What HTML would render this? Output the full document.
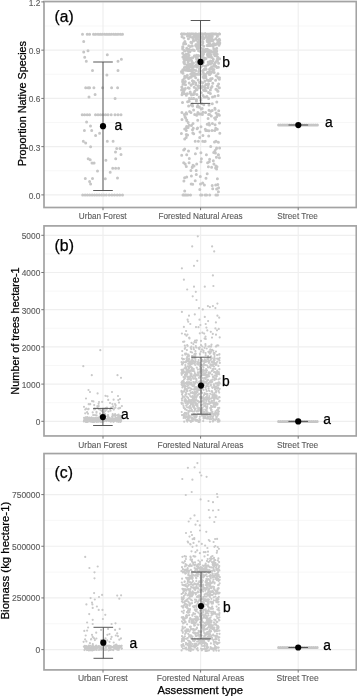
<!DOCTYPE html>
<html><head><meta charset="utf-8"><style>html,body{margin:0;padding:0;background:#fff;overflow:hidden}svg{display:block;will-change:transform;filter:blur(0.4px)}text{font-family:"Liberation Sans",sans-serif}.k{fill:#000;stroke:#000;stroke-width:.25px}.g{fill:#5c5c5c;stroke:#5c5c5c;stroke-width:.12px}</style></head><body>
<svg width="357" height="696" viewBox="0 0 357 696">
<rect width="357" height="696" fill="#fff"/>
<line x1="44.0" x2="356.3" y1="170.78" y2="170.78" stroke="#f5f5f5" stroke-width="0.8"/>
<line x1="44.0" x2="356.3" y1="122.53" y2="122.53" stroke="#f5f5f5" stroke-width="0.8"/>
<line x1="44.0" x2="356.3" y1="74.28" y2="74.28" stroke="#f5f5f5" stroke-width="0.8"/>
<line x1="44.0" x2="356.3" y1="26.03" y2="26.03" stroke="#f5f5f5" stroke-width="0.8"/>
<line x1="44.0" x2="356.3" y1="194.90" y2="194.90" stroke="#efefef" stroke-width="1.2"/>
<line x1="44.0" x2="356.3" y1="146.65" y2="146.65" stroke="#efefef" stroke-width="1.2"/>
<line x1="44.0" x2="356.3" y1="98.40" y2="98.40" stroke="#efefef" stroke-width="1.2"/>
<line x1="44.0" x2="356.3" y1="50.15" y2="50.15" stroke="#efefef" stroke-width="1.2"/>
<line x1="44.0" x2="356.3" y1="1.90" y2="1.90" stroke="#efefef" stroke-width="1.2"/>
<line x1="103.0" x2="103.0" y1="1.5" y2="207.5" stroke="#efefef" stroke-width="1.2"/>
<line x1="200.6" x2="200.6" y1="1.5" y2="207.5" stroke="#efefef" stroke-width="1.2"/>
<line x1="298.2" x2="298.2" y1="1.5" y2="207.5" stroke="#efefef" stroke-width="1.2"/>
<line x1="44.0" x2="356.3" y1="402.70" y2="402.70" stroke="#f5f5f5" stroke-width="0.8"/>
<line x1="44.0" x2="356.3" y1="365.50" y2="365.50" stroke="#f5f5f5" stroke-width="0.8"/>
<line x1="44.0" x2="356.3" y1="328.30" y2="328.30" stroke="#f5f5f5" stroke-width="0.8"/>
<line x1="44.0" x2="356.3" y1="291.10" y2="291.10" stroke="#f5f5f5" stroke-width="0.8"/>
<line x1="44.0" x2="356.3" y1="253.90" y2="253.90" stroke="#f5f5f5" stroke-width="0.8"/>
<line x1="44.0" x2="356.3" y1="421.30" y2="421.30" stroke="#efefef" stroke-width="1.2"/>
<line x1="44.0" x2="356.3" y1="384.10" y2="384.10" stroke="#efefef" stroke-width="1.2"/>
<line x1="44.0" x2="356.3" y1="346.90" y2="346.90" stroke="#efefef" stroke-width="1.2"/>
<line x1="44.0" x2="356.3" y1="309.70" y2="309.70" stroke="#efefef" stroke-width="1.2"/>
<line x1="44.0" x2="356.3" y1="272.50" y2="272.50" stroke="#efefef" stroke-width="1.2"/>
<line x1="44.0" x2="356.3" y1="235.30" y2="235.30" stroke="#efefef" stroke-width="1.2"/>
<line x1="103.0" x2="103.0" y1="225.9" y2="435.95" stroke="#efefef" stroke-width="1.2"/>
<line x1="200.6" x2="200.6" y1="225.9" y2="435.95" stroke="#efefef" stroke-width="1.2"/>
<line x1="298.2" x2="298.2" y1="225.9" y2="435.95" stroke="#efefef" stroke-width="1.2"/>
<line x1="44.0" x2="356.3" y1="623.76" y2="623.76" stroke="#f5f5f5" stroke-width="0.8"/>
<line x1="44.0" x2="356.3" y1="572.09" y2="572.09" stroke="#f5f5f5" stroke-width="0.8"/>
<line x1="44.0" x2="356.3" y1="520.41" y2="520.41" stroke="#f5f5f5" stroke-width="0.8"/>
<line x1="44.0" x2="356.3" y1="468.74" y2="468.74" stroke="#f5f5f5" stroke-width="0.8"/>
<line x1="44.0" x2="356.3" y1="649.60" y2="649.60" stroke="#efefef" stroke-width="1.2"/>
<line x1="44.0" x2="356.3" y1="597.93" y2="597.93" stroke="#efefef" stroke-width="1.2"/>
<line x1="44.0" x2="356.3" y1="546.25" y2="546.25" stroke="#efefef" stroke-width="1.2"/>
<line x1="44.0" x2="356.3" y1="494.58" y2="494.58" stroke="#efefef" stroke-width="1.2"/>
<line x1="103.0" x2="103.0" y1="453.55" y2="669.9" stroke="#efefef" stroke-width="1.2"/>
<line x1="200.6" x2="200.6" y1="453.55" y2="669.9" stroke="#efefef" stroke-width="1.2"/>
<line x1="298.2" x2="298.2" y1="453.55" y2="669.9" stroke="#efefef" stroke-width="1.2"/>
<path d="M82.5 34.3h0M87.2 34.3h0M89.6 34.3h0M93.5 34.3h0M95.7 34.3h0M98.0 34.3h0M100.2 34.3h0M102.4 34.3h0M104.7 34.3h0M106.9 34.3h0M109.1 34.3h0M111.3 34.3h0M113.6 34.3h0M115.8 34.3h0M118.0 34.3h0M120.3 34.3h0M122.5 34.3h0M83.7 41.6h0M83.7 52.0h0M88.0 50.8h0M84.7 57.3h0M107.3 54.7h0M86.3 61.2h0M118.0 61.2h0M121.4 59.2h0M92.5 70.4h0M118.0 70.4h0M106.9 74.9h0M85.7 87.8h0M88.2 87.8h0M89.6 87.8h0M93.9 87.8h0M102.5 87.8h0M111.6 87.8h0M117.6 87.8h0M95.1 94.5h0M89.0 96.9h0M115.1 98.4h0M82.2 114.7h0M84.6 114.7h0M87.2 114.7h0M89.6 114.7h0M95.5 114.7h0M98.0 114.7h0M100.5 114.7h0M103.0 114.7h0M105.5 114.7h0M108.0 114.7h0M111.2 114.7h0M115.0 114.7h0M118.0 114.7h0M121.0 114.7h0M86.6 122.1h0M90.5 126.0h0M84.4 130.4h0M91.7 130.4h0M99.6 133.3h0M95.6 135.5h0M83.3 141.2h0M85.7 143.1h0M107.3 141.2h0M113.1 141.2h0M90.6 146.7h0M116.7 148.6h0M120.0 148.6h0M115.5 152.0h0M121.0 154.5h0M88.2 158.8h0M90.2 159.8h0M92.0 163.1h0M94.1 163.1h0M105.9 160.2h0M115.7 158.8h0M112.7 168.2h0M115.6 168.2h0M118.6 168.2h0M97.5 171.0h0M110.2 172.2h0M85.3 178.4h0M92.5 178.4h0M89.6 181.4h0M90.6 183.9h0M105.3 178.8h0M117.5 178.0h0M82.7 195.1h0M85.1 195.1h0M87.4 195.1h0M89.8 195.1h0M92.1 195.1h0M94.5 195.1h0M96.9 195.1h0M99.2 195.1h0M101.6 195.1h0M103.9 195.1h0M106.3 195.1h0M109.2 195.1h0M111.9 195.1h0M114.5 195.1h0M117.2 195.1h0M119.8 195.1h0M122.5 195.1h0M205.4 34.1h0M215.9 34.1h0M211.2 34.1h0M190.0 34.1h0M192.9 34.1h0M214.9 34.1h0M181.6 34.1h0M212.9 34.1h0M212.0 34.1h0M199.4 34.1h0M193.0 34.1h0M192.1 34.1h0M191.2 34.1h0M198.5 34.1h0M200.8 34.1h0M202.7 34.1h0M219.6 34.1h0M211.8 34.1h0M205.3 34.1h0M219.4 34.1h0M189.7 34.1h0M187.6 34.1h0M204.9 34.1h0M183.1 34.1h0M182.8 34.1h0M201.2 34.1h0M199.3 34.1h0M216.6 34.1h0M205.6 34.1h0M201.1 34.1h0M200.5 34.1h0M190.9 34.1h0M181.9 34.1h0M188.8 34.1h0M208.0 34.1h0M189.1 34.1h0M195.6 34.1h0M181.5 34.1h0M213.3 34.1h0M187.3 34.1h0M191.7 34.1h0M215.2 34.1h0M201.0 34.1h0M213.9 34.1h0M206.0 34.1h0M209.9 34.1h0M184.9 34.1h0M202.2 34.1h0M200.9 34.1h0M214.9 34.1h0M195.3 34.1h0M204.4 34.1h0M183.7 34.1h0M196.3 34.1h0M193.8 34.1h0M187.2 34.1h0M212.7 34.1h0M196.0 34.1h0M219.0 34.1h0M204.1 34.1h0M208.7 50.3h0M185.1 51.1h0M209.3 52.1h0M211.2 39.2h0M213.1 46.3h0M207.3 41.4h0M195.6 45.4h0M183.9 37.9h0M201.3 59.2h0M210.5 40.8h0M188.7 52.0h0M191.6 42.9h0M202.0 56.9h0M210.1 51.7h0M215.8 38.7h0M186.2 56.2h0M188.5 58.7h0M212.1 57.6h0M206.1 49.5h0M209.1 39.1h0M219.7 40.2h0M217.5 58.2h0M213.8 49.0h0M211.2 39.9h0M196.6 57.2h0M206.0 51.2h0M188.5 49.5h0M210.6 44.7h0M210.5 45.6h0M209.1 41.4h0M198.5 36.4h0M195.9 57.0h0M197.5 47.0h0M182.7 48.9h0M213.8 43.4h0M202.2 53.9h0M196.3 36.1h0M202.4 44.6h0M209.1 36.2h0M196.0 38.5h0M213.3 59.2h0M216.7 51.6h0M196.3 46.0h0M186.7 48.3h0M210.6 56.9h0M219.5 43.9h0M187.1 50.0h0M208.8 52.3h0M213.1 44.2h0M216.7 48.2h0M186.1 54.2h0M184.9 57.8h0M219.3 39.2h0M185.9 58.4h0M188.2 35.6h0M203.5 53.9h0M198.5 55.4h0M210.2 38.9h0M188.7 45.8h0M216.5 55.5h0M189.7 35.8h0M210.9 50.9h0M184.0 54.9h0M199.6 48.1h0M182.7 53.3h0M193.5 41.0h0M193.4 40.4h0M209.0 44.4h0M198.9 39.9h0M183.6 44.0h0M219.6 58.7h0M215.5 49.5h0M216.6 43.8h0M190.9 42.2h0M196.5 58.8h0M190.1 46.4h0M186.2 59.5h0M182.7 48.1h0M200.7 48.3h0M186.1 57.5h0M188.2 53.7h0M214.4 49.7h0M200.0 46.0h0M188.5 57.0h0M207.1 45.6h0M191.6 58.1h0M201.6 37.2h0M192.3 46.0h0M201.2 48.2h0M205.5 58.8h0M202.0 41.6h0M196.6 55.2h0M211.8 52.1h0M214.9 53.1h0M188.3 50.9h0M186.6 59.3h0M185.7 43.7h0M219.0 45.3h0M217.6 40.5h0M190.3 36.7h0M218.6 40.7h0M189.4 57.9h0M200.8 56.1h0M200.5 38.3h0M216.5 50.3h0M183.0 47.2h0M193.5 50.1h0M204.4 51.7h0M183.9 43.0h0M190.5 59.1h0M199.3 46.9h0M215.2 50.9h0M210.6 51.1h0M213.2 40.0h0M210.6 37.0h0M208.6 45.6h0M214.0 54.2h0M207.6 55.5h0M209.7 53.4h0M193.0 38.3h0M187.8 57.9h0M210.5 55.1h0M187.8 57.0h0M216.7 48.3h0M204.3 57.9h0M194.1 36.6h0M217.4 36.2h0M187.4 36.0h0M201.2 41.7h0M184.9 41.6h0M218.5 40.1h0M203.5 49.4h0M212.3 36.5h0M192.2 50.0h0M212.2 39.6h0M208.4 52.1h0M206.1 36.0h0M217.9 43.1h0M198.0 58.5h0M197.3 48.7h0M208.0 55.4h0M213.5 51.6h0M194.3 50.5h0M207.1 40.2h0M189.4 49.6h0M202.6 36.5h0M210.9 55.1h0M183.9 59.0h0M209.3 56.4h0M182.0 36.7h0M218.2 43.8h0M199.4 43.3h0M197.1 38.3h0M209.1 50.9h0M201.5 55.0h0M209.5 43.2h0M184.7 56.6h0M203.0 55.0h0M202.8 38.7h0M217.2 54.3h0M182.9 57.1h0M198.8 40.3h0M205.6 49.6h0M202.5 51.1h0M184.2 50.4h0M204.2 37.9h0M189.9 51.7h0M188.9 51.0h0M215.1 55.7h0M189.0 55.2h0M198.8 43.5h0M210.2 53.2h0M208.6 56.7h0M202.7 57.4h0M212.4 39.5h0M199.3 36.2h0M205.2 51.4h0M212.8 40.8h0M207.4 49.3h0M206.0 58.6h0M197.0 44.8h0M202.8 41.7h0M196.6 46.7h0M210.0 51.6h0M196.0 38.0h0M199.3 44.8h0M210.4 38.8h0M200.7 51.7h0M194.4 55.8h0M213.1 44.7h0M196.0 44.6h0M213.8 48.7h0M211.6 40.8h0M198.6 41.6h0M208.8 43.6h0M182.7 46.7h0M196.4 37.5h0M214.4 53.9h0M203.7 49.7h0M202.8 42.8h0M206.9 37.4h0M207.4 54.2h0M203.8 38.7h0M197.6 38.8h0M188.4 38.7h0M192.6 37.5h0M192.6 57.7h0M197.9 42.1h0M219.8 43.0h0M194.9 55.9h0M198.6 50.7h0M195.7 40.1h0M203.7 46.2h0M217.8 57.2h0M215.5 44.7h0M214.1 65.7h0M210.4 64.0h0M194.3 73.3h0M184.4 67.4h0M186.5 70.3h0M188.5 61.1h0M193.1 73.0h0M198.6 64.7h0M217.0 67.4h0M192.1 63.0h0M215.9 66.3h0M207.5 72.4h0M214.2 72.4h0M196.9 67.1h0M181.5 71.5h0M211.6 66.9h0M190.8 65.6h0M186.9 68.2h0M212.1 63.0h0M207.8 64.7h0M189.6 70.6h0M191.7 71.6h0M217.5 60.9h0M191.7 71.0h0M208.4 72.3h0M186.4 66.7h0M212.7 60.9h0M185.9 70.2h0M201.2 63.7h0M182.8 69.7h0M202.5 65.6h0M213.9 69.6h0M184.6 63.9h0M191.9 67.1h0M210.8 67.9h0M204.8 69.5h0M193.4 63.0h0M205.5 74.4h0M198.9 64.3h0M214.5 64.6h0M192.6 63.8h0M210.5 61.0h0M205.8 66.3h0M209.8 71.6h0M195.9 70.6h0M209.2 62.9h0M208.2 62.1h0M196.3 64.8h0M182.4 71.5h0M218.4 67.3h0M208.8 73.8h0M189.3 69.8h0M209.5 69.3h0M192.1 71.5h0M199.4 71.3h0M214.4 65.2h0M198.6 63.9h0M192.5 66.6h0M193.1 67.3h0M184.4 62.1h0M189.8 66.6h0M191.8 69.6h0M188.0 62.0h0M183.8 62.1h0M199.3 62.6h0M189.6 64.2h0M209.8 74.4h0M216.8 60.4h0M191.9 62.8h0M203.4 62.5h0M200.9 67.1h0M184.3 60.2h0M186.2 66.9h0M215.4 62.4h0M199.6 64.0h0M212.3 71.9h0M184.0 62.8h0M204.2 69.3h0M214.6 66.1h0M214.7 66.3h0M181.6 72.3h0M201.4 62.4h0M195.6 73.9h0M210.6 73.4h0M184.2 70.0h0M191.6 60.7h0M212.6 69.9h0M199.4 69.0h0M198.8 71.6h0M218.6 63.2h0M193.7 74.3h0M183.0 73.3h0M196.5 61.7h0M187.3 64.7h0M184.5 60.5h0M203.2 72.5h0M218.0 73.7h0M203.6 74.8h0M206.2 69.2h0M193.8 70.0h0M203.3 70.2h0M210.3 68.6h0M204.0 74.3h0M212.2 69.1h0M202.5 65.0h0M189.0 67.7h0M203.8 60.3h0M200.3 70.9h0M187.8 70.4h0M205.2 66.3h0M217.7 91.3h0M195.7 77.7h0M217.5 85.9h0M197.0 89.7h0M195.8 83.1h0M210.5 80.4h0M199.5 82.4h0M198.6 85.8h0M196.2 88.7h0M198.0 86.2h0M186.8 77.1h0M183.7 91.4h0M210.4 93.5h0M203.1 77.0h0M207.2 80.0h0M212.2 78.5h0M190.2 92.0h0M190.4 93.2h0M192.1 75.9h0M193.1 81.6h0M210.6 78.8h0M195.8 84.4h0M193.8 93.4h0M205.8 76.4h0M188.6 78.4h0M185.5 84.7h0M208.2 85.5h0M210.4 89.9h0M192.8 83.8h0M205.8 77.8h0M182.7 82.1h0M196.9 94.6h0M203.6 90.0h0M191.1 77.3h0M194.8 91.2h0M204.8 81.2h0M204.1 90.6h0M187.3 75.3h0M208.5 92.4h0M184.5 78.2h0M218.6 84.1h0M189.2 88.2h0M191.1 85.2h0M189.1 78.3h0M219.5 77.8h0M192.4 80.7h0M204.6 76.0h0M219.4 79.3h0M217.9 77.6h0M183.0 84.3h0M201.4 82.1h0M204.5 86.7h0M208.4 80.6h0M194.3 75.7h0M194.0 81.6h0M181.6 90.1h0M182.8 80.1h0M202.5 83.1h0M184.3 90.1h0M189.2 83.1h0M194.2 92.7h0M184.1 93.4h0M182.6 81.2h0M217.0 89.7h0M198.1 80.1h0M189.3 77.8h0M208.6 83.8h0M181.8 87.0h0M190.8 93.7h0M218.3 77.9h0M215.9 89.2h0M205.8 84.5h0M185.0 77.6h0M193.6 94.5h0M182.5 88.9h0M189.8 77.6h0M182.4 93.1h0M186.2 77.1h0M205.7 76.9h0M185.3 81.6h0M187.4 93.8h0M216.1 75.7h0M194.3 93.4h0M194.2 87.2h0M184.7 76.3h0M212.0 86.4h0M207.4 84.2h0M202.4 86.3h0M205.1 89.7h0M185.3 88.6h0M191.4 94.9h0M203.8 78.1h0M218.0 91.3h0M212.8 83.2h0M206.0 90.7h0M201.3 92.8h0M182.0 94.8h0M215.6 80.3h0M184.0 84.1h0M186.4 93.9h0M215.5 119.3h0M212.4 123.4h0M188.2 122.5h0M218.7 110.8h0M189.2 101.2h0M214.8 96.2h0M215.1 124.8h0M205.3 129.2h0M201.4 103.5h0M189.1 125.3h0M201.3 109.1h0M192.6 105.9h0M186.2 112.7h0M186.3 95.3h0M212.2 110.5h0M216.8 102.0h0M186.8 119.9h0M181.9 112.6h0M191.5 125.4h0M186.6 126.4h0M188.6 106.1h0M203.8 104.8h0M197.6 127.9h0M197.9 112.6h0M189.3 98.4h0M206.9 96.6h0M192.5 129.7h0M196.7 115.3h0M199.2 96.9h0M216.1 112.9h0M190.9 112.6h0M209.0 110.2h0M193.3 128.3h0M215.7 128.2h0M196.5 99.4h0M200.8 100.3h0M215.1 109.3h0M207.2 124.2h0M185.0 116.8h0M186.7 120.5h0M219.4 115.2h0M182.5 102.4h0M193.0 123.6h0M218.2 95.5h0M182.0 119.4h0M187.6 101.8h0M189.6 111.5h0M184.7 129.1h0M199.5 113.9h0M204.1 97.0h0M193.6 110.0h0M185.6 118.1h0M212.5 97.0h0M212.3 103.8h0M203.0 95.6h0M186.7 113.9h0M202.2 108.4h0M205.6 112.6h0M197.8 105.4h0M214.6 118.0h0M196.4 101.1h0M201.0 126.7h0M185.8 128.6h0M203.0 112.3h0M210.8 111.3h0M209.5 125.1h0M191.3 105.1h0M219.5 123.1h0M209.0 105.1h0M197.7 120.2h0M197.3 106.7h0M211.3 116.1h0M188.1 127.4h0M206.0 96.9h0M209.0 123.3h0M201.2 114.0h0M214.9 108.3h0M199.4 107.3h0M199.3 97.4h0M192.3 104.0h0M216.7 116.8h0M193.5 98.4h0M208.1 118.4h0M197.1 128.7h0M217.3 129.3h0M212.7 188.8h0M200.0 131.9h0M218.4 191.7h0M192.2 167.5h0M186.3 134.6h0M213.3 160.8h0M192.8 133.1h0M213.9 164.0h0M204.8 141.5h0M200.9 152.8h0M184.7 148.9h0M211.6 167.3h0M183.9 181.0h0M218.5 188.1h0M215.1 150.4h0M193.0 165.3h0M186.3 130.4h0M215.4 153.1h0M199.8 189.6h0M186.2 137.4h0M200.5 183.9h0M190.9 170.5h0M197.1 148.2h0M206.0 178.2h0M216.6 147.9h0M212.2 185.5h0M187.6 135.1h0M199.7 137.4h0M200.3 176.5h0M219.4 157.8h0M184.7 139.1h0M201.0 161.8h0M216.5 148.4h0M196.7 164.1h0M191.4 176.1h0M202.7 183.1h0M193.7 133.7h0M217.0 166.7h0M184.7 191.0h0M189.3 158.5h0M184.6 177.7h0M208.7 136.0h0M192.7 184.2h0M216.0 166.1h0M215.7 185.1h0M217.4 178.8h0M191.2 183.9h0M181.4 133.6h0M196.3 174.4h0M218.4 142.2h0M210.7 146.5h0M183.7 150.1h0M208.4 166.7h0M216.6 168.9h0M218.6 187.7h0M208.9 130.8h0M214.5 142.0h0M213.7 152.4h0M195.2 180.7h0M185.2 164.1h0M209.3 161.7h0M186.7 177.1h0M196.2 170.6h0M219.6 148.0h0M202.9 135.4h0M201.4 158.7h0M217.8 184.6h0M192.3 167.1h0M219.8 133.3h0M216.4 157.3h0M195.4 153.8h0M194.0 166.1h0M186.3 166.4h0M216.6 189.0h0M188.5 151.0h0M181.7 155.3h0M215.6 168.0h0M204.4 185.0h0M207.2 173.8h0M209.6 159.2h0M183.0 195.1h0M184.9 195.1h0M200.6 195.1h0M183.3 195.1h0M200.8 195.1h0M209.7 195.1h0M206.6 195.1h0M205.1 195.1h0M183.2 195.1h0M190.5 195.1h0M215.9 195.1h0M186.1 195.1h0M201.9 195.1h0M183.3 195.1h0M217.5 195.1h0M188.0 195.1h0M197.1 114.5h0M202.4 114.5h0M209.0 114.5h0M217.4 114.5h0M209.7 114.5h0M194.7 114.5h0M184.3 114.5h0M208.6 114.5h0M218.7 114.5h0M182.1 87.7h0M211.1 87.7h0M188.2 87.7h0M199.1 87.7h0M201.5 87.7h0M205.0 87.7h0M219.4 87.7h0M207.8 87.7h0M196.5 74.3h0M208.9 74.3h0M199.3 74.3h0M197.3 74.3h0M195.4 74.3h0M200.3 74.3h0M192.2 74.3h0M190.7 74.3h0M187.1 66.2h0M198.3 66.2h0M192.7 66.2h0M213.5 66.2h0M214.0 66.2h0M194.6 66.2h0M205.2 141.3h0M216.0 141.3h0M195.2 141.3h0M202.7 141.3h0M198.4 141.3h0M206.4 154.7h0M218.3 154.7h0M186.7 154.7h0M218.5 154.7h0M207.0 130.6h0M212.0 130.6h0M205.8 130.6h0M214.8 130.6h0M193.9 98.4h0M208.6 98.4h0M191.5 98.4h0M200.9 98.4h0M207.6 162.7h0M189.1 162.7h0M183.7 162.7h0" stroke="#c6c6c6" stroke-width="3.0" stroke-linecap="round" fill="none"/>
<path d="M111.3 421.1h0M104.3 421.1h0M86.9 420.5h0M92.9 418.9h0M86.2 420.5h0M91.1 417.9h0M91.5 420.5h0M99.7 420.1h0M96.2 420.3h0M97.7 419.5h0M115.2 418.5h0M84.6 420.8h0M87.8 419.6h0M114.8 420.9h0M104.3 419.1h0M100.7 417.9h0M94.1 419.9h0M104.6 420.3h0M92.3 421.6h0M116.8 421.5h0M115.4 417.8h0M96.2 421.0h0M84.7 418.7h0M117.9 420.6h0M95.3 419.2h0M109.0 418.9h0M116.8 419.7h0M114.5 419.9h0M116.9 420.6h0M102.6 420.4h0M116.1 420.6h0M101.5 419.2h0M93.9 420.5h0M102.3 419.1h0M96.7 420.2h0M113.3 419.6h0M115.7 420.0h0M89.2 417.6h0M90.1 419.7h0M98.5 418.5h0M101.6 419.2h0M120.5 417.8h0M120.0 420.5h0M120.9 421.5h0M111.8 419.1h0M109.8 418.0h0M94.2 420.3h0M98.1 418.1h0M83.9 421.5h0M115.8 418.1h0M94.4 419.1h0M86.8 419.7h0M95.9 418.0h0M96.2 418.9h0M111.6 418.7h0M84.0 420.7h0M92.6 421.9h0M118.2 419.1h0M116.6 421.1h0M108.0 418.1h0M105.3 420.1h0M92.3 419.4h0M117.4 418.8h0M113.0 421.2h0M103.5 420.9h0M90.0 418.1h0M92.1 418.8h0M98.4 421.2h0M96.5 422.0h0M86.1 420.3h0M99.4 421.4h0M101.0 421.9h0M94.8 420.8h0M98.6 420.4h0M96.6 418.5h0M98.3 419.2h0M107.6 420.3h0M102.9 421.7h0M91.4 418.9h0M114.3 419.3h0M103.5 417.6h0M101.4 420.6h0M111.2 419.5h0M112.7 421.1h0M116.4 418.6h0M115.0 420.5h0M109.5 420.5h0M111.5 419.6h0M89.8 418.3h0M110.7 419.3h0M93.6 420.9h0M93.7 418.4h0M88.4 417.9h0M99.0 419.6h0M84.6 418.6h0M109.0 421.1h0M112.5 421.2h0M113.6 421.8h0M88.7 421.3h0M108.4 420.4h0M116.0 418.3h0M85.2 421.2h0M91.2 420.8h0M94.1 420.9h0M101.5 420.6h0M90.4 421.2h0M104.5 418.8h0M97.0 420.5h0M109.0 419.8h0M104.2 419.0h0M110.2 419.0h0M93.3 418.2h0M111.0 419.7h0M112.0 419.2h0M111.5 419.4h0M86.4 421.3h0M120.1 420.6h0M106.0 420.6h0M94.3 421.9h0M100.5 418.5h0M103.7 419.8h0M103.7 417.9h0M93.3 419.3h0M94.0 421.8h0M97.8 417.9h0M113.8 420.9h0M100.6 421.4h0M85.3 419.8h0M101.2 421.1h0M91.5 419.5h0M84.3 419.1h0M121.3 419.8h0M95.1 418.4h0M104.4 418.9h0M97.6 418.9h0M85.9 421.9h0M118.4 419.0h0M119.7 418.5h0M91.0 421.7h0M99.9 418.1h0M98.1 421.8h0M90.2 421.3h0M109.2 420.4h0M113.8 419.4h0M113.0 418.4h0M109.7 418.0h0M84.5 418.0h0M92.6 419.1h0M103.6 419.3h0M110.8 421.7h0M98.6 419.9h0M101.1 422.0h0M116.1 420.7h0M84.7 418.2h0M94.1 420.0h0M94.9 418.2h0M121.9 417.7h0M92.5 421.7h0M85.6 419.0h0M99.8 418.4h0M108.7 418.0h0M89.7 420.4h0M116.0 419.6h0M91.3 417.6h0M110.8 420.7h0M90.0 418.7h0M117.7 421.0h0M91.5 419.7h0M111.9 419.9h0M116.0 419.6h0M93.6 420.5h0M87.4 422.0h0M106.3 421.1h0M103.0 417.8h0M102.2 419.7h0M113.8 418.6h0M101.6 418.0h0M102.9 418.4h0M102.5 418.6h0M101.3 421.8h0M99.4 420.9h0M90.0 421.3h0M95.1 420.6h0M94.0 418.9h0M93.3 419.3h0M113.9 419.5h0M88.2 418.8h0M91.7 419.4h0M104.0 421.0h0M95.8 417.8h0M93.0 418.7h0M98.1 419.7h0M103.1 420.5h0M109.7 420.4h0M121.1 420.8h0M116.5 418.0h0M100.3 418.3h0M101.1 418.9h0M99.8 418.8h0M93.0 420.9h0M120.3 422.0h0M86.4 420.6h0M91.7 417.6h0M109.2 418.8h0M106.4 421.1h0M94.5 421.7h0M119.8 420.2h0M99.5 419.1h0M106.7 419.1h0M87.3 420.4h0M118.0 421.4h0M87.8 419.0h0M98.9 418.4h0M117.8 417.5h0M120.1 418.1h0M118.5 421.3h0M115.6 420.3h0M92.8 422.0h0M85.0 417.8h0M101.1 419.1h0M86.2 421.1h0M120.7 420.5h0M84.1 417.8h0M96.3 419.3h0M91.6 420.4h0M84.3 420.6h0M103.0 419.5h0M86.7 418.3h0M118.4 421.8h0M110.2 419.6h0M113.8 409.6h0M101.8 415.5h0M118.2 415.0h0M98.6 409.1h0M112.6 415.6h0M108.4 416.6h0M96.5 412.7h0M104.2 409.4h0M107.1 416.3h0M104.4 416.8h0M88.1 409.3h0M121.9 406.1h0M120.9 415.8h0M85.2 413.3h0M120.1 407.9h0M104.2 412.1h0M88.6 408.9h0M115.3 416.5h0M100.4 409.3h0M111.2 407.5h0M115.6 405.5h0M104.5 409.3h0M85.7 417.4h0M115.4 407.7h0M110.5 410.7h0M118.7 417.2h0M94.2 405.1h0M114.0 408.7h0M117.3 415.3h0M97.4 406.2h0M99.6 416.6h0M96.6 415.4h0M84.0 406.8h0M92.7 412.4h0M96.5 411.9h0M88.0 413.7h0M113.2 408.8h0M100.2 409.8h0M105.6 408.0h0M94.7 408.6h0M97.6 407.2h0M112.7 416.3h0M101.8 416.1h0M106.7 409.5h0M100.0 413.7h0M105.2 411.1h0M118.3 408.5h0M94.1 409.4h0M103.7 417.1h0M110.2 409.3h0M87.1 412.2h0M120.7 416.8h0M103.0 408.7h0M93.2 415.1h0M113.0 406.4h0M115.1 414.2h0M108.0 415.1h0M119.0 415.5h0M87.2 417.2h0M104.1 413.9h0M112.3 417.2h0M119.0 408.5h0M108.4 411.5h0M106.9 407.7h0M98.7 406.0h0M105.7 410.5h0M105.1 414.0h0M118.6 414.7h0M115.6 405.2h0M112.1 416.8h0M119.3 408.1h0M86.3 408.7h0M113.4 415.4h0M101.6 416.2h0M112.7 414.2h0M95.2 409.2h0M101.7 410.8h0M115.5 415.4h0M85.2 409.5h0M95.0 415.1h0M93.4 401.4h0M112.4 404.0h0M108.2 399.9h0M98.6 403.8h0M113.6 399.7h0M118.3 400.1h0M102.2 401.9h0M119.0 402.6h0M88.7 404.2h0M90.2 404.2h0M100.3 350.2h0M83.3 366.2h0M91.8 375.2h0M117.5 375.2h0M121.0 377.8h0M88.5 390.0h0M90.0 392.0h0M97.6 393.4h0M105.5 395.8h0M107.5 396.3h0M112.0 392.0h0M118.0 396.0h0M120.0 399.0h0M86.0 398.5h0M92.0 401.0h0M99.0 402.0h0M110.0 403.0h0M115.0 404.0h0M197.8 236.3h0M192.2 246.4h0M212.1 246.4h0M214.2 251.4h0M197.3 260.8h0M194.0 265.8h0M181.9 268.3h0M212.9 275.4h0M183.9 279.7h0M194.0 286.7h0M204.8 286.7h0M213.4 286.0h0M187.2 289.5h0M195.8 291.8h0M192.7 296.3h0M196.5 300.0h0M217.4 303.6h0M207.9 306.1h0M209.9 307.1h0M212.9 306.1h0M215.4 308.1h0M199.0 308.1h0M202.8 309.4h0M181.9 311.9h0M189.0 315.7h0M194.8 314.4h0M204.8 316.9h0M217.4 315.7h0M219.2 317.7h0M198.5 327.2h0M188.2 321.7h0M200.4 325.0h0M190.3 324.0h0M187.6 319.7h0M196.0 327.1h0M183.9 326.9h0M199.5 319.7h0M208.1 321.1h0M206.4 327.6h0M218.8 328.9h0M215.4 328.4h0M205.7 324.0h0M215.9 322.4h0M205.5 336.7h0M194.3 342.0h0M185.0 334.3h0M189.1 337.9h0M211.5 344.7h0M205.8 339.0h0M212.0 337.6h0M183.1 341.8h0M216.0 334.7h0M196.1 342.5h0M217.0 330.3h0M204.2 333.6h0M202.4 332.7h0M212.8 333.9h0M205.4 344.2h0M207.3 330.4h0M187.5 334.5h0M204.6 338.6h0M195.1 340.5h0M184.3 341.6h0M186.5 335.7h0M199.8 333.3h0M191.5 342.8h0M210.8 331.8h0M186.1 331.0h0M181.9 333.5h0M219.7 337.4h0M193.4 344.1h0M201.0 340.9h0M189.5 338.5h0M189.4 337.8h0M196.8 340.4h0M182.4 355.3h0M184.8 345.5h0M188.3 355.9h0M214.3 357.9h0M208.9 352.3h0M210.2 349.7h0M198.5 348.0h0M185.3 347.4h0M199.3 349.2h0M214.5 356.1h0M201.0 345.0h0M205.7 355.2h0M195.8 353.7h0M187.2 345.2h0M205.5 345.9h0M200.0 354.6h0M194.7 353.8h0M191.3 349.1h0M208.1 356.2h0M193.6 347.7h0M203.5 350.5h0M191.4 346.5h0M210.3 353.4h0M195.8 346.1h0M199.8 347.3h0M217.0 355.0h0M209.0 351.5h0M209.7 353.6h0M194.4 354.5h0M213.7 352.9h0M196.2 347.6h0M219.4 354.1h0M215.8 346.5h0M206.7 348.5h0M213.3 350.8h0M202.3 346.5h0M209.6 346.4h0M186.2 353.5h0M219.4 354.6h0M212.1 349.8h0M186.9 350.1h0M190.7 347.7h0M203.5 351.8h0M210.7 352.5h0M187.1 357.1h0M218.3 345.5h0M194.7 356.8h0M219.6 357.9h0M210.3 349.5h0M200.0 354.4h0M195.3 355.7h0M185.1 353.5h0M184.8 348.8h0M205.6 353.1h0M211.1 356.4h0M216.2 346.4h0M195.4 351.2h0M217.4 345.3h0M192.8 356.0h0M217.5 355.1h0M216.7 345.6h0M187.4 354.7h0M214.5 354.0h0M208.4 346.6h0M208.4 351.8h0M213.7 354.0h0M202.0 349.4h0M200.9 351.6h0M195.5 357.7h0M214.6 353.3h0M216.0 351.5h0M187.6 345.9h0M211.1 346.6h0M192.0 356.1h0M188.5 354.7h0M189.0 355.9h0M203.4 352.5h0M192.1 352.5h0M190.7 351.9h0M185.2 354.6h0M193.9 349.3h0M211.1 351.5h0M182.2 351.1h0M199.9 353.6h0M204.5 347.8h0M195.5 361.2h0M216.3 376.8h0M189.3 416.0h0M190.7 421.6h0M215.5 412.4h0M192.0 368.9h0M194.1 406.9h0M215.3 386.9h0M193.7 368.9h0M219.7 388.8h0M212.9 417.1h0M213.9 414.1h0M190.1 383.1h0M189.7 362.1h0M210.3 415.6h0M213.1 421.1h0M190.0 390.7h0M189.3 372.4h0M190.8 392.8h0M186.7 402.6h0M197.6 388.9h0M200.7 380.6h0M205.5 373.9h0M183.5 377.0h0M188.8 361.2h0M185.9 374.3h0M191.8 419.0h0M188.5 358.5h0M217.4 404.6h0M195.7 408.5h0M186.7 383.9h0M207.0 396.1h0M218.8 372.1h0M211.9 400.8h0M206.3 403.3h0M195.9 405.0h0M196.9 389.5h0M193.0 420.1h0M212.4 413.4h0M212.2 394.6h0M200.2 401.7h0M214.5 375.6h0M206.4 418.4h0M207.7 399.3h0M191.7 415.3h0M190.7 376.5h0M190.1 420.9h0M216.4 364.7h0M212.1 391.9h0M215.9 365.1h0M213.0 370.1h0M212.3 406.9h0M198.1 362.2h0M210.8 382.5h0M187.8 370.3h0M206.6 412.4h0M183.0 363.3h0M218.5 379.5h0M215.2 412.8h0M187.7 402.0h0M210.9 403.0h0M213.0 421.4h0M183.0 359.5h0M203.1 400.5h0M197.5 405.7h0M205.2 405.9h0M215.4 403.7h0M209.2 362.6h0M189.5 363.4h0M202.7 407.5h0M203.0 397.2h0M181.8 374.8h0M186.5 358.6h0M195.2 392.1h0M188.2 363.8h0M190.5 405.9h0M207.4 379.8h0M218.3 409.7h0M199.0 364.1h0M206.2 389.6h0M210.6 364.4h0M207.2 407.9h0M206.6 393.8h0M181.4 373.0h0M214.8 419.6h0M187.6 401.6h0M188.3 379.5h0M201.0 412.7h0M203.9 382.3h0M210.4 418.3h0M192.6 377.0h0M217.7 421.0h0M205.5 362.0h0M213.8 405.0h0M199.7 376.6h0M184.1 385.1h0M181.9 398.7h0M206.0 360.9h0M197.8 372.3h0M198.3 364.7h0M193.9 405.3h0M188.2 372.2h0M199.6 389.9h0M191.2 379.0h0M215.7 373.1h0M188.3 417.9h0M218.6 390.5h0M214.4 399.6h0M196.1 403.1h0M211.1 410.6h0M203.7 374.8h0M199.3 363.0h0M212.6 387.9h0M213.3 368.9h0M189.1 359.3h0M216.2 416.9h0M182.6 398.1h0M181.6 384.5h0M200.0 366.7h0M193.0 406.7h0M197.6 392.1h0M199.8 369.2h0M199.4 420.9h0M216.3 418.9h0M216.7 417.3h0M194.7 410.9h0M192.4 392.0h0M206.5 377.2h0M189.0 399.7h0M196.8 367.7h0M209.0 397.5h0M181.6 362.2h0M211.0 358.9h0M209.6 403.8h0M196.3 379.9h0M190.9 402.6h0M202.1 407.9h0M192.8 411.5h0M212.9 397.4h0M204.1 412.2h0M193.2 400.2h0M212.4 417.3h0M204.7 415.4h0M186.5 360.8h0M197.3 375.1h0M200.2 382.9h0M217.7 374.1h0M193.7 369.3h0M198.6 413.9h0M218.9 359.6h0M197.8 369.6h0M213.2 406.7h0M185.1 372.3h0M196.5 374.5h0M188.5 419.9h0M215.3 406.8h0M202.6 386.7h0M189.8 366.7h0M184.9 375.2h0M197.6 420.8h0M185.1 408.6h0M200.0 362.5h0M209.4 403.2h0M193.3 382.1h0M187.8 404.1h0M195.3 376.9h0M187.8 366.3h0M213.8 359.3h0M185.1 376.9h0M209.9 413.1h0M194.2 415.0h0M209.4 401.7h0M211.0 405.9h0M186.6 370.5h0M210.4 380.7h0M217.7 415.6h0M203.2 421.1h0M206.2 386.4h0M193.8 407.7h0M188.1 417.7h0M210.0 421.8h0M212.9 376.9h0M189.3 399.9h0M185.8 383.0h0M194.9 387.8h0M205.4 387.6h0M195.4 375.8h0M218.4 359.2h0M211.8 407.1h0M216.6 402.5h0M204.4 411.8h0M210.4 367.8h0M217.9 373.2h0M182.8 396.2h0M203.5 417.9h0M188.6 388.2h0M211.9 370.9h0M190.3 396.1h0M209.9 419.3h0M194.2 413.6h0M206.4 415.5h0M207.5 384.3h0M216.3 374.8h0M214.9 413.7h0M198.2 408.4h0M207.9 412.5h0M188.4 383.0h0M185.2 376.3h0M208.8 373.4h0M216.2 413.7h0M210.1 416.8h0M201.2 381.5h0M205.6 414.0h0M209.4 382.4h0M203.3 386.7h0M195.3 394.3h0M214.1 372.2h0M195.6 375.1h0M216.1 375.1h0M212.1 374.6h0M211.9 391.0h0M213.4 364.4h0M219.3 407.9h0M219.4 369.2h0M200.7 386.4h0M195.9 399.1h0M209.6 366.8h0M218.6 384.2h0M205.6 394.0h0M182.4 393.2h0M182.9 415.1h0M199.2 408.2h0M211.6 365.7h0M215.5 411.3h0M195.8 393.2h0M201.3 401.4h0M201.1 368.2h0M185.0 388.2h0M181.4 402.8h0M201.5 409.0h0M200.8 409.6h0M214.6 371.9h0M188.4 411.3h0M214.1 394.4h0M191.8 400.8h0M202.1 412.5h0M208.5 383.9h0M187.0 416.9h0M217.7 414.4h0M218.2 409.7h0M218.6 382.3h0M181.5 391.8h0M206.1 369.1h0M207.2 406.6h0M215.2 415.0h0M189.1 368.3h0M186.2 405.7h0M212.5 402.4h0M191.4 360.3h0M183.9 416.7h0M184.9 388.7h0M206.2 375.2h0M202.0 359.9h0M210.1 408.0h0M212.4 379.6h0M181.5 390.9h0M217.2 370.5h0M215.2 396.8h0M217.2 383.4h0M210.9 409.6h0M196.1 400.6h0M190.9 404.2h0M216.4 374.1h0M197.5 362.1h0M200.1 414.3h0M208.2 417.9h0M207.8 399.2h0M208.0 417.0h0M205.3 403.2h0M200.9 396.8h0M210.9 384.8h0M196.6 380.8h0M191.5 389.3h0M216.3 372.2h0M213.9 385.4h0M209.0 390.5h0M187.9 360.0h0M183.2 383.2h0M216.8 376.2h0M217.6 398.6h0M191.9 410.0h0M205.6 397.3h0M182.1 400.5h0M196.5 397.3h0M208.4 374.4h0M195.3 382.1h0M212.4 412.0h0M216.5 418.5h0M186.7 369.6h0M207.8 358.7h0M195.8 419.5h0M188.1 413.0h0M194.8 396.9h0M199.9 410.3h0M215.8 396.0h0M210.8 415.9h0M181.6 373.6h0M183.6 386.4h0M219.6 400.9h0M202.8 371.8h0M204.8 403.7h0M194.9 374.8h0M213.3 403.4h0M202.8 409.5h0M204.2 385.1h0M191.0 421.4h0M211.2 398.4h0M189.6 406.4h0M186.7 359.3h0M204.3 365.2h0M213.4 403.5h0M192.7 418.4h0M193.0 398.2h0M187.1 416.4h0M204.6 361.8h0M211.0 415.1h0M186.2 414.1h0M202.0 398.2h0M202.1 385.5h0M185.5 403.1h0M201.8 373.6h0M191.8 400.7h0M189.0 402.4h0M219.2 392.6h0M184.9 374.6h0M194.6 358.1h0M205.2 370.5h0M196.9 411.4h0M182.1 371.6h0M214.7 362.8h0M190.6 373.8h0M197.2 391.2h0M216.3 395.5h0M218.6 414.1h0M216.5 412.7h0M197.2 420.0h0M210.0 414.6h0M214.0 386.8h0M189.0 367.1h0M218.6 419.2h0M185.3 372.6h0M206.7 397.8h0M190.6 374.9h0M189.7 410.3h0M186.7 370.8h0M217.6 384.9h0M186.3 372.1h0M216.4 413.1h0M187.8 397.6h0M194.0 398.4h0M189.5 378.1h0M219.3 369.3h0M185.0 412.9h0M214.5 406.9h0M192.9 405.0h0M218.0 421.8h0M210.2 393.8h0M191.5 369.4h0M201.0 397.0h0M187.6 376.4h0M197.0 390.8h0M182.4 387.4h0M207.6 394.1h0M204.2 417.0h0M191.8 409.9h0M181.9 384.6h0M217.5 410.3h0M186.2 413.1h0M194.0 407.5h0M182.4 393.3h0M196.1 415.6h0M196.8 389.5h0M201.9 364.8h0M193.8 375.4h0M191.0 400.1h0M211.6 382.3h0M192.1 385.1h0M194.2 383.7h0M200.3 370.3h0M191.9 364.0h0M209.3 361.1h0M184.6 401.0h0M193.8 378.7h0M197.6 387.2h0M191.3 417.9h0M213.7 398.1h0M195.0 409.9h0M197.6 406.8h0M199.4 419.0h0M213.3 362.3h0M189.8 382.6h0M213.2 418.8h0M217.8 387.7h0M191.6 418.7h0M187.9 369.8h0M211.7 361.9h0M193.4 415.3h0M190.1 384.3h0M184.4 390.5h0M205.0 417.9h0M217.4 372.0h0M215.2 420.0h0M204.0 383.4h0M198.2 373.8h0M218.9 373.0h0M206.8 391.2h0M218.1 387.9h0M207.8 414.7h0M208.2 361.3h0M208.3 360.8h0M186.2 367.8h0M191.1 396.8h0M183.9 408.0h0M217.2 388.7h0M219.6 397.3h0M204.6 399.1h0M187.4 359.2h0M186.2 373.8h0M198.5 421.9h0M196.4 379.2h0M188.9 418.6h0M184.8 389.5h0M206.3 372.2h0M211.8 358.2h0M183.8 371.9h0M193.3 378.6h0M192.9 386.1h0M202.2 386.6h0M204.6 393.1h0M197.2 388.3h0M214.7 360.1h0M196.4 375.1h0M193.0 419.6h0M210.8 359.8h0M213.7 405.0h0M215.1 388.5h0M187.9 403.2h0M189.0 379.3h0M199.2 381.7h0M218.6 391.1h0M205.2 416.2h0M205.3 379.0h0M193.9 363.5h0M219.4 360.4h0M188.4 414.4h0M202.9 378.1h0M207.3 365.6h0M212.5 396.2h0M212.6 412.1h0M196.2 396.4h0M191.8 367.7h0M219.0 384.0h0M202.6 375.1h0M192.2 359.1h0M186.7 419.8h0M212.2 387.4h0M214.0 366.6h0M203.3 414.6h0M196.1 421.0h0M206.7 410.2h0M219.0 374.2h0M203.6 370.2h0M211.6 391.6h0M215.3 395.3h0M210.5 414.2h0M200.1 419.9h0M188.2 416.3h0M208.1 379.9h0M213.3 395.5h0M218.4 365.9h0M187.2 391.2h0M185.8 362.5h0M205.8 365.1h0M213.2 365.8h0M184.3 377.3h0M205.0 377.8h0M191.6 403.1h0M219.8 362.9h0M195.3 365.1h0M184.5 400.0h0M211.5 401.1h0M192.9 403.5h0M197.5 404.1h0M186.4 400.4h0M194.1 393.4h0M186.5 405.4h0M191.3 363.2h0M203.6 371.6h0M192.9 405.5h0M207.0 370.3h0M216.0 392.0h0M203.5 374.7h0M182.5 385.6h0M218.3 411.4h0M189.0 400.3h0M194.7 386.5h0M201.6 375.5h0M205.2 409.5h0M194.5 400.0h0M198.3 386.2h0M205.5 413.6h0M199.0 402.3h0M192.3 420.8h0M197.2 400.5h0M196.2 415.6h0M192.6 393.2h0M204.5 403.4h0M201.1 411.9h0M197.2 363.8h0M208.6 388.4h0M212.6 396.8h0M206.3 361.7h0M194.5 408.5h0M217.4 403.8h0M185.4 417.9h0M212.3 381.8h0M197.6 388.0h0M196.6 416.4h0M213.8 384.3h0M206.6 411.4h0M218.8 385.0h0M215.1 379.6h0M185.9 375.7h0M200.7 371.7h0M210.9 385.6h0M184.6 368.3h0M202.2 411.0h0M219.5 420.4h0M190.6 364.2h0M185.9 361.5h0M192.5 358.2h0M194.6 417.7h0M192.4 362.7h0M198.0 401.5h0M213.4 377.4h0M201.3 370.7h0M204.0 373.8h0M185.6 402.1h0M183.9 359.2h0M217.9 413.3h0M194.7 394.3h0M217.8 373.1h0M194.3 371.3h0M206.0 399.9h0M206.8 398.3h0M184.9 378.4h0M184.1 379.4h0M198.4 387.7h0M186.3 416.3h0M192.8 392.5h0M188.9 411.8h0M193.4 399.0h0M198.9 394.0h0M193.4 389.3h0M194.3 401.6h0M200.1 389.5h0M207.6 404.5h0M183.0 369.7h0M219.7 378.6h0M197.9 413.9h0M216.8 383.3h0M181.7 412.0h0M183.6 418.0h0M185.2 395.0h0M216.4 364.5h0M197.2 406.4h0M213.9 400.6h0M208.1 376.6h0M184.8 413.2h0M195.3 388.9h0M194.1 361.6h0M198.8 362.4h0M210.3 372.6h0M184.6 397.0h0M217.0 410.2h0M199.7 364.3h0M195.4 359.4h0M208.2 397.8h0M192.0 384.2h0M208.8 386.3h0M197.4 410.5h0M199.8 416.8h0M188.7 419.9h0M189.2 407.9h0M214.5 358.2h0M203.5 367.6h0M197.6 395.6h0M211.2 419.1h0M216.4 363.2h0M187.5 391.0h0M219.7 383.4h0M181.9 384.0h0M205.0 375.2h0M191.5 375.3h0M191.1 373.3h0M200.4 364.6h0M204.6 393.5h0M198.2 386.5h0M208.8 403.6h0M217.9 399.0h0M187.9 419.0h0M190.5 379.7h0M204.8 414.5h0M197.2 382.6h0M193.5 400.3h0M200.8 409.5h0M208.2 383.4h0M216.3 386.6h0M217.5 398.4h0M212.9 365.1h0M194.7 392.0h0M215.3 364.1h0M208.7 372.4h0M188.1 397.9h0M218.0 420.2h0M190.9 422.0h0M207.6 374.7h0M208.1 367.4h0M216.3 391.2h0M207.0 386.2h0M219.2 382.3h0M183.7 407.2h0M182.8 403.4h0M188.9 394.0h0M203.5 397.8h0M197.7 395.2h0M184.6 401.3h0M189.2 417.4h0M203.6 418.6h0M196.9 420.7h0M210.7 413.0h0M199.3 364.7h0M215.1 386.9h0M210.5 408.0h0M200.4 376.8h0M195.1 396.8h0M189.6 361.5h0M192.6 371.0h0M195.0 383.6h0M195.3 362.5h0M188.3 385.2h0M199.6 372.7h0M185.7 413.2h0M214.8 378.4h0M202.5 382.4h0M185.1 409.3h0M194.0 393.8h0M191.2 361.2h0M187.4 371.9h0M199.9 397.1h0M188.4 370.8h0M187.2 373.9h0M208.4 397.9h0M197.9 389.7h0M207.2 375.2h0M199.4 393.8h0M200.8 398.6h0M193.3 360.5h0M197.8 375.5h0M199.9 377.7h0M194.5 414.2h0M213.1 361.3h0M190.9 380.2h0M189.9 370.5h0M194.6 402.5h0M211.6 409.9h0M213.9 361.7h0M203.1 413.3h0M195.3 402.5h0M206.3 371.9h0M213.1 416.6h0M190.7 376.8h0M207.0 408.5h0M208.7 362.8h0M196.4 387.2h0M187.0 390.4h0M204.7 415.4h0M189.5 411.5h0M195.5 393.0h0M202.3 361.3h0M218.4 385.5h0M187.0 382.0h0M184.2 421.7h0M202.1 401.6h0M217.6 383.9h0M183.2 381.3h0M206.1 407.1h0M182.4 364.1h0M202.6 410.3h0M186.0 400.9h0M206.7 385.9h0M195.3 403.5h0M206.5 383.5h0M191.3 367.2h0M184.3 384.7h0M188.4 361.3h0M191.9 363.6h0M187.7 386.1h0M189.0 410.8h0M202.3 371.0h0M198.2 390.1h0M213.1 420.7h0M200.5 411.0h0M202.1 415.7h0M208.7 401.2h0M214.2 395.7h0M203.9 395.2h0M182.8 396.5h0M199.0 387.8h0M182.6 381.1h0M204.6 373.3h0M183.9 362.2h0M202.1 381.6h0M187.2 407.3h0M214.3 393.4h0M185.0 368.5h0M206.7 410.1h0M208.4 360.7h0M192.0 417.6h0M204.2 399.7h0M194.1 393.6h0M191.3 384.4h0M191.4 410.8h0M182.0 358.4h0M207.2 359.0h0M184.2 391.3h0M189.0 377.0h0M184.7 383.7h0M212.3 392.3h0M201.7 360.8h0M199.3 420.9h0M203.8 401.4h0M212.4 364.3h0M205.4 405.3h0M201.1 392.1h0M193.4 402.0h0M201.2 405.2h0M219.3 421.4h0M203.3 365.6h0M199.7 421.8h0M215.5 388.5h0M183.5 370.9h0M183.8 381.9h0M211.7 381.3h0M217.6 415.3h0M183.4 391.6h0M182.3 362.3h0M181.8 403.8h0M203.6 389.9h0M186.7 410.1h0M203.0 361.0h0M206.9 413.4h0M182.0 415.1h0M214.8 358.5h0M191.1 388.5h0M202.7 365.8h0M195.0 391.9h0M194.6 363.7h0M196.9 414.8h0M181.5 369.8h0M197.9 400.8h0M191.6 399.8h0M195.1 378.5h0M187.7 371.7h0M194.3 416.6h0M208.3 360.5h0M219.2 374.3h0M189.0 378.9h0M214.7 395.4h0M205.0 381.6h0M185.3 365.1h0M182.0 394.5h0M215.3 404.3h0M190.4 403.1h0M185.5 389.3h0M206.6 377.6h0M208.5 358.7h0M215.8 392.1h0M200.6 398.2h0M193.4 386.2h0M193.6 419.4h0M189.3 370.9h0M205.8 410.1h0M217.6 404.0h0M184.7 415.6h0M196.2 417.2h0M194.9 373.2h0M184.5 417.0h0M204.2 383.8h0M219.1 401.5h0M192.0 419.0h0M209.3 396.1h0M216.0 395.3h0M191.8 362.5h0M216.7 396.2h0M210.1 373.4h0M206.2 382.8h0M188.9 382.2h0M192.1 420.3h0M185.3 398.8h0M215.8 404.4h0M212.5 369.1h0M184.7 377.5h0M201.8 414.2h0M189.6 365.7h0M210.8 419.0h0M203.4 385.4h0M217.7 383.0h0M209.3 390.9h0M185.3 386.4h0M195.7 388.1h0M203.5 385.1h0M216.4 402.9h0M195.6 375.7h0M188.6 368.7h0M192.3 385.8h0M190.9 363.7h0M187.3 386.6h0M194.6 389.6h0M191.0 408.2h0M201.0 365.0h0M215.7 383.4h0M218.0 408.0h0M187.5 379.6h0M203.3 411.5h0M207.3 404.0h0M187.3 360.7h0M201.8 382.7h0M189.1 407.0h0M195.4 391.7h0M193.8 401.1h0M212.7 421.4h0M190.4 401.2h0M202.1 392.9h0M203.9 412.2h0M194.1 385.5h0M217.1 358.7h0M194.2 375.4h0M193.9 396.1h0M208.0 418.7h0M200.1 396.9h0M209.2 376.2h0M187.3 421.6h0M187.1 383.6h0M209.7 372.6h0M196.3 393.4h0M214.3 380.0h0M190.4 365.1h0M190.6 403.6h0M214.5 402.3h0M195.3 420.2h0M185.6 366.8h0M189.9 416.3h0M211.0 409.0h0M191.6 374.2h0M202.7 388.7h0M213.4 398.3h0M204.8 378.2h0M210.3 364.9h0M218.9 411.6h0M192.9 368.5h0M215.0 389.4h0M202.6 386.0h0M189.1 415.8h0M186.5 393.8h0M194.0 385.2h0M186.7 420.5h0M211.0 380.6h0M202.8 404.5h0M183.1 373.0h0M215.1 406.5h0M204.3 406.1h0M198.4 411.0h0M186.8 389.0h0M199.4 372.2h0M216.6 398.4h0M203.8 416.3h0M199.0 377.8h0M204.8 359.3h0M202.5 369.8h0M205.3 417.7h0M189.0 358.4h0M187.1 361.4h0M181.9 364.3h0M213.3 415.1h0M181.5 382.5h0M191.2 402.3h0M203.9 403.2h0M200.6 385.8h0M216.0 404.9h0M189.6 387.5h0M185.8 392.7h0M187.6 377.6h0M200.5 358.1h0M192.6 396.0h0M198.9 375.0h0M207.8 375.6h0M193.7 414.2h0M206.9 381.2h0M182.2 364.6h0M202.4 398.3h0M216.2 392.5h0M217.3 361.7h0M203.4 380.3h0M219.2 397.1h0M190.4 375.9h0M192.8 421.1h0M198.6 409.1h0M200.9 390.3h0M212.9 416.6h0M198.6 360.2h0M183.2 372.4h0M208.3 416.5h0M190.0 390.6h0M215.3 368.9h0M189.5 394.5h0M192.8 404.7h0M186.7 396.6h0M193.0 360.9h0M204.5 360.4h0M191.7 384.1h0M183.3 359.0h0M203.9 363.4h0M209.6 399.1h0M185.6 386.1h0M197.7 363.5h0M184.0 414.1h0M182.1 381.6h0M195.8 414.5h0M192.4 397.0h0M215.0 397.7h0M181.9 385.1h0M206.2 401.0h0M209.6 373.6h0M197.4 374.5h0M200.6 414.0h0M190.9 371.0h0M191.1 382.7h0M183.4 405.7h0M216.2 379.1h0" stroke="#c9c9c9" stroke-width="2.2" stroke-linecap="round" fill="none"/>
<path d="M114.9 645.7h0M95.6 646.3h0M99.4 649.1h0M88.7 647.8h0M118.1 648.1h0M98.1 647.0h0M110.7 646.4h0M84.8 649.4h0M110.6 646.2h0M92.5 647.0h0M101.1 649.2h0M109.7 647.0h0M90.4 650.2h0M104.0 646.4h0M115.9 648.1h0M90.1 648.2h0M101.8 648.0h0M90.9 649.3h0M89.3 645.8h0M102.6 648.2h0M101.3 649.4h0M108.5 645.8h0M116.7 648.2h0M110.9 647.7h0M96.7 647.5h0M102.5 648.2h0M109.7 648.6h0M116.0 649.0h0M110.0 649.9h0M103.1 648.8h0M88.9 650.4h0M117.1 648.8h0M94.6 646.9h0M99.4 646.3h0M117.8 645.9h0M91.8 646.9h0M118.9 646.2h0M92.6 648.9h0M87.1 648.9h0M103.5 648.5h0M114.3 647.4h0M99.3 647.8h0M116.2 646.8h0M99.0 650.0h0M115.1 645.7h0M88.1 647.1h0M94.7 648.3h0M88.5 646.5h0M112.2 649.7h0M101.8 647.9h0M109.0 647.4h0M93.0 645.9h0M112.0 646.9h0M121.9 648.4h0M86.8 646.9h0M96.0 645.8h0M117.2 648.4h0M116.5 647.1h0M117.3 649.7h0M92.5 648.9h0M105.4 649.1h0M87.1 649.9h0M100.4 649.5h0M105.9 647.2h0M93.7 648.3h0M100.0 646.8h0M97.9 646.6h0M87.1 646.6h0M86.4 646.1h0M113.8 646.7h0M83.9 646.7h0M121.7 648.8h0M118.2 646.8h0M121.7 645.8h0M114.0 647.6h0M83.9 646.6h0M88.3 648.9h0M96.0 646.7h0M90.8 648.3h0M86.1 646.4h0M119.0 647.9h0M118.8 649.8h0M113.3 647.1h0M93.5 648.1h0M116.5 647.7h0M115.3 645.9h0M96.2 645.7h0M88.7 649.6h0M89.0 647.2h0M99.5 648.9h0M115.8 647.6h0M86.7 649.6h0M100.3 646.5h0M97.4 647.9h0M118.1 648.2h0M89.7 649.4h0M109.0 645.7h0M96.2 647.3h0M108.6 647.9h0M115.4 648.4h0M115.5 646.3h0M116.3 648.2h0M95.0 648.9h0M94.4 649.1h0M88.5 646.7h0M93.6 647.7h0M88.4 647.0h0M113.9 647.5h0M85.6 647.3h0M91.2 650.1h0M114.1 645.7h0M113.3 650.1h0M121.2 645.8h0M98.5 646.0h0M85.5 646.6h0M114.8 647.0h0M94.8 649.7h0M113.5 649.6h0M84.5 650.1h0M85.1 647.5h0M106.8 645.7h0M110.1 648.6h0M105.4 649.9h0M104.2 646.1h0M106.7 649.6h0M88.8 645.6h0M86.2 649.1h0M97.2 648.0h0M104.8 650.0h0M93.4 649.8h0M90.7 645.8h0M100.9 648.0h0M99.5 646.8h0M94.1 647.7h0M119.4 645.9h0M120.0 647.3h0M85.6 647.6h0M102.2 645.6h0M92.9 647.9h0M96.7 649.9h0M84.9 645.9h0M86.9 650.1h0M85.1 647.9h0M88.6 646.6h0M108.7 650.3h0M86.8 647.9h0M117.8 647.7h0M114.6 647.4h0M94.1 649.8h0M110.4 646.2h0M120.4 646.6h0M88.3 647.0h0M105.3 645.9h0M101.7 649.7h0M95.7 647.9h0M94.9 648.5h0M87.1 649.9h0M108.6 648.0h0M91.4 646.9h0M100.0 648.1h0M119.4 648.0h0M97.2 647.0h0M95.9 646.7h0M119.6 647.3h0M106.2 649.1h0M105.7 646.4h0M92.3 650.4h0M108.4 646.7h0M98.4 646.9h0M104.7 646.2h0M99.1 647.5h0M86.9 647.4h0M117.5 648.9h0M110.4 649.9h0M120.6 646.8h0M103.7 640.3h0M94.9 640.1h0M91.3 639.0h0M107.2 640.3h0M107.2 640.5h0M91.0 639.4h0M104.5 640.0h0M101.3 640.2h0M116.3 644.5h0M86.4 641.4h0M92.8 644.2h0M105.5 638.4h0M85.1 639.4h0M116.3 645.2h0M121.0 638.4h0M96.4 638.5h0M85.2 556.9h0M89.4 568.0h0M97.7 566.5h0M94.5 572.3h0M94.5 578.3h0M94.1 593.1h0M102.1 594.9h0M99.0 597.0h0M90.6 598.1h0M94.8 599.5h0M117.2 595.6h0M121.1 595.3h0M119.3 598.7h0M86.4 604.4h0M92.0 602.6h0M92.4 604.4h0M96.9 606.5h0M92.7 607.9h0M98.7 609.9h0M102.5 609.9h0M89.2 614.1h0M105.3 614.8h0M92.7 619.8h0M102.9 619.0h0M87.1 622.5h0M92.7 624.0h0M111.6 624.0h0M115.5 623.3h0M88.1 627.5h0M84.3 630.9h0M87.1 630.6h0M96.2 632.7h0M101.1 629.9h0M108.1 628.9h0M115.1 629.9h0M119.7 628.9h0M117.2 633.4h0M85.7 635.5h0M92.0 634.8h0M92.7 636.9h0M94.1 638.3h0M107.4 634.8h0M109.5 634.1h0M111.6 636.9h0M110.9 639.0h0M115.8 635.5h0M117.9 636.2h0M119.3 639.7h0M83.6 641.8h0M89.9 643.2h0M109.5 641.8h0M113.7 642.5h0M197.4 463.1h0M187.9 467.8h0M194.6 467.3h0M199.9 472.5h0M201.3 475.5h0M206.6 476.8h0M182.3 479.0h0M192.4 479.7h0M185.8 495.0h0M191.7 492.0h0M217.0 494.0h0M217.5 497.0h0M200.6 499.4h0M208.5 501.0h0M213.0 502.2h0M208.8 510.0h0M213.0 510.5h0M218.5 510.0h0M194.5 515.4h0M209.7 517.6h0M215.7 517.0h0M190.5 518.5h0M188.7 521.5h0M214.3 522.0h0M197.6 521.0h0M195.5 524.7h0M199.8 525.4h0M186.0 533.0h0M191.0 532.0h0M200.0 530.5h0M206.3 531.8h0M189.5 536.6h0M192.0 535.0h0M218.9 548.8h0M187.7 541.5h0M191.5 551.3h0M209.7 541.0h0M194.3 538.1h0M215.1 539.0h0M190.5 544.4h0M193.5 538.5h0M208.0 551.7h0M214.4 546.8h0M215.3 546.0h0M192.5 546.8h0M201.8 543.9h0M197.2 550.4h0M207.4 548.0h0M190.1 544.0h0M213.6 542.0h0M208.8 540.0h0M188.1 542.4h0M193.5 542.9h0M194.3 539.1h0M217.1 550.9h0M198.9 541.6h0M205.1 545.6h0M217.1 538.9h0M196.6 545.7h0M217.7 547.0h0M192.6 539.1h0M195.5 552.2h0M199.9 553.2h0M202.0 560.3h0M194.6 556.6h0M200.0 562.0h0M218.4 558.4h0M215.2 560.2h0M193.5 556.2h0M207.7 559.0h0M217.8 560.4h0M195.3 556.5h0M214.0 557.9h0M212.0 562.1h0M215.5 563.2h0M184.6 556.2h0M216.8 552.8h0M219.1 562.1h0M190.7 557.4h0M205.7 563.6h0M184.9 561.2h0M204.5 556.4h0M208.6 562.2h0M210.0 558.6h0M214.3 560.6h0M192.7 562.6h0M185.9 559.0h0M212.8 563.4h0M182.4 556.8h0M190.4 556.5h0M190.5 559.7h0M211.2 556.9h0M198.4 560.5h0M213.6 558.4h0M207.0 560.9h0M213.8 561.9h0M211.6 558.8h0M215.2 563.0h0M192.0 561.4h0M195.0 562.3h0M205.5 552.2h0M203.8 552.2h0M211.3 559.6h0M212.5 556.0h0M193.1 562.5h0M186.0 556.7h0M209.9 560.9h0M207.8 555.0h0M192.0 559.6h0M183.6 562.8h0M182.3 562.3h0M188.5 585.6h0M195.4 587.8h0M205.5 582.0h0M201.2 568.4h0M188.1 578.8h0M210.6 594.4h0M211.9 572.0h0M206.9 582.0h0M207.8 602.1h0M191.1 637.8h0M213.6 639.8h0M203.9 599.2h0M188.2 575.0h0M207.7 587.4h0M205.5 622.7h0M203.2 599.4h0M199.5 613.6h0M210.8 628.1h0M209.4 621.3h0M204.0 638.8h0M184.0 571.5h0M190.3 589.8h0M219.0 567.0h0M196.9 609.3h0M205.7 617.5h0M186.5 586.1h0M203.3 568.8h0M204.8 604.4h0M210.7 578.6h0M218.6 580.9h0M198.9 597.2h0M193.4 646.2h0M187.5 595.3h0M194.2 625.7h0M198.4 596.4h0M218.4 599.3h0M201.0 576.2h0M207.3 580.1h0M209.6 631.0h0M181.9 601.3h0M190.3 588.8h0M202.1 649.9h0M183.6 640.4h0M187.2 587.0h0M210.3 601.8h0M207.3 613.3h0M186.7 578.5h0M185.9 601.2h0M213.8 588.7h0M199.5 634.5h0M193.5 572.2h0M209.0 650.3h0M207.1 584.5h0M219.6 592.8h0M185.4 570.6h0M210.9 643.4h0M199.1 636.0h0M190.9 569.9h0M200.5 610.0h0M182.2 598.0h0M186.2 616.7h0M185.6 593.2h0M208.0 647.2h0M208.6 583.0h0M190.8 635.4h0M193.2 587.3h0M211.1 620.5h0M196.3 601.2h0M194.8 609.8h0M217.7 609.4h0M202.3 618.5h0M202.1 569.9h0M204.8 569.2h0M183.0 648.5h0M196.7 586.0h0M211.7 595.0h0M206.4 584.9h0M215.6 620.2h0M193.3 649.6h0M199.7 599.0h0M190.4 592.0h0M188.5 594.4h0M184.9 566.4h0M189.0 571.8h0M187.7 568.2h0M198.3 592.2h0M197.2 649.6h0M210.7 576.3h0M211.3 611.8h0M202.2 582.0h0M206.6 567.2h0M199.4 636.8h0M193.3 575.1h0M200.7 575.8h0M205.6 635.1h0M218.1 585.2h0M212.8 581.3h0M184.0 646.1h0M206.0 580.9h0M184.9 636.4h0M205.3 590.7h0M214.0 613.2h0M208.2 591.1h0M186.0 593.5h0M197.7 645.1h0M188.9 643.0h0M206.8 579.2h0M208.7 627.0h0M209.7 576.1h0M195.1 590.0h0M204.4 570.2h0M189.4 620.4h0M217.1 627.2h0M217.4 628.9h0M182.6 631.4h0M203.0 598.3h0M209.0 579.4h0M190.3 564.4h0M182.7 602.3h0M181.5 645.2h0M208.5 603.0h0M181.9 617.6h0M196.2 643.8h0M212.1 639.0h0M183.4 628.4h0M208.5 615.5h0M198.0 584.2h0M196.4 629.1h0M200.0 600.3h0M194.9 625.4h0M214.5 583.4h0M207.1 645.8h0M196.3 578.3h0M186.0 632.8h0M200.8 641.5h0M219.8 577.2h0M215.6 639.3h0M184.0 620.1h0M195.1 616.5h0M199.4 586.1h0M197.0 592.6h0M185.7 584.5h0M188.6 602.4h0M201.9 620.4h0M209.1 627.4h0M208.9 625.4h0M207.2 594.2h0M207.3 593.2h0M181.7 630.4h0M189.8 648.7h0M194.3 583.3h0M191.2 599.9h0M196.3 588.0h0M196.7 648.8h0M194.4 565.4h0M181.8 641.6h0M214.6 630.8h0M218.1 592.9h0M205.0 623.2h0M191.9 596.2h0M198.7 619.4h0M216.4 601.0h0M204.4 643.6h0M208.2 603.8h0M208.3 634.7h0M219.1 614.1h0M206.6 596.4h0M185.6 648.1h0M200.8 581.0h0M216.8 643.0h0M186.4 649.4h0M183.4 637.9h0M183.3 617.1h0M184.1 618.2h0M187.7 644.8h0M211.0 601.7h0M204.4 635.7h0M209.5 631.4h0M202.8 638.7h0M195.0 602.3h0M211.6 620.8h0M187.9 572.0h0M195.2 570.3h0M197.3 573.3h0M207.5 628.0h0M210.6 594.9h0M203.2 643.0h0M204.7 570.9h0M192.2 579.0h0M204.2 636.8h0M213.8 600.4h0M198.3 583.2h0M210.3 631.9h0M200.9 584.4h0M201.1 648.7h0M204.7 587.9h0M186.8 638.7h0M189.7 605.7h0M188.1 645.4h0M201.9 589.8h0M207.1 644.5h0M208.6 590.3h0M189.4 603.0h0M194.2 619.0h0M187.0 612.2h0M206.5 622.4h0M197.5 624.6h0M191.9 587.3h0M190.0 564.8h0M217.8 626.9h0M199.9 616.2h0M219.5 613.0h0M193.7 607.1h0M189.7 644.8h0M208.9 589.8h0M216.4 643.3h0M187.7 578.6h0M214.5 624.4h0M204.0 645.9h0M216.1 577.4h0M217.7 631.0h0M197.8 587.8h0M217.5 569.1h0M188.3 601.5h0M198.4 624.8h0M198.4 588.7h0M190.8 646.7h0M200.0 564.2h0M210.3 587.3h0M185.6 593.7h0M199.9 596.3h0M201.6 590.1h0M188.9 565.9h0M206.1 582.3h0M191.1 586.8h0M203.3 622.5h0M203.4 596.8h0M210.2 626.8h0M217.3 602.5h0M217.0 593.6h0M200.7 577.8h0M191.5 583.9h0M190.7 642.4h0M211.6 603.6h0M210.6 591.3h0M211.9 583.0h0M213.4 640.3h0M203.1 625.3h0M215.9 624.4h0M206.6 634.0h0M205.6 585.0h0M213.5 627.6h0M206.4 570.2h0M210.9 621.8h0M217.1 592.0h0M196.6 621.6h0M210.2 583.7h0M192.9 594.8h0M200.1 622.3h0M214.9 645.7h0M218.8 593.6h0M217.8 578.7h0M210.5 574.8h0M214.0 622.4h0M215.4 641.8h0M204.8 565.5h0M190.8 594.0h0M182.1 578.7h0M210.6 647.1h0M210.6 575.5h0M209.5 570.0h0M203.7 630.8h0M206.7 650.9h0M209.0 631.3h0M201.8 574.0h0M206.7 599.5h0M190.0 609.2h0M201.9 642.2h0M205.5 629.5h0M203.2 569.2h0M191.3 603.4h0M186.3 631.7h0M206.5 611.3h0M185.7 622.0h0M211.9 648.2h0M188.4 649.1h0M211.0 636.8h0M195.1 613.8h0M216.0 590.8h0M190.1 577.9h0M187.5 578.6h0M207.3 619.7h0M211.1 631.2h0M194.8 638.7h0M199.5 643.5h0M206.8 589.0h0M192.7 593.1h0M196.3 581.1h0M203.1 611.3h0M193.0 646.4h0M187.0 629.9h0M216.3 602.0h0M186.1 577.8h0M219.3 637.3h0M213.8 642.0h0M198.6 630.8h0M214.5 589.4h0M183.9 598.0h0M203.0 614.8h0M195.0 643.9h0M192.9 585.1h0M215.8 600.5h0M182.9 569.2h0M214.5 564.3h0M184.4 585.2h0M207.4 634.4h0M192.4 622.8h0M201.6 605.5h0M216.9 599.6h0M212.0 587.0h0M185.2 630.6h0M193.1 606.4h0M200.1 570.1h0M208.9 618.6h0M181.6 650.4h0M214.6 570.3h0M213.7 650.7h0M218.1 572.7h0M189.2 590.8h0M189.6 649.0h0M213.4 648.6h0M201.2 580.1h0M190.8 626.7h0M182.1 617.3h0M189.7 598.6h0M207.3 632.2h0M209.5 619.2h0M195.0 583.6h0M216.6 606.6h0M201.0 625.7h0M201.3 618.1h0M196.6 611.2h0M196.9 628.2h0M195.2 575.7h0M213.1 567.7h0M198.3 566.9h0M190.3 618.0h0M198.1 601.8h0M216.9 636.7h0M205.9 648.5h0M185.4 573.7h0M197.5 597.0h0M199.3 600.5h0M181.9 611.5h0M218.3 643.1h0M216.6 616.2h0M185.3 590.5h0M202.6 621.7h0M193.4 592.6h0M189.5 612.3h0M191.9 572.6h0M183.5 613.1h0M207.8 605.6h0M195.5 620.2h0M208.3 613.3h0M212.7 613.8h0M203.4 628.1h0M194.6 575.6h0M186.8 629.4h0M206.4 618.3h0M207.3 623.9h0M211.4 598.8h0M186.7 571.4h0M183.2 644.2h0M215.2 635.9h0M204.7 648.9h0M185.0 604.1h0M208.6 641.0h0M183.6 639.8h0M205.7 611.8h0M202.7 642.3h0M208.9 634.9h0M185.0 572.9h0M216.3 575.6h0M217.5 599.4h0M219.2 610.4h0M210.8 620.8h0M193.4 613.1h0M219.0 640.2h0M205.0 633.7h0M209.0 572.9h0M206.8 593.5h0M189.3 641.2h0M214.2 629.7h0M206.2 565.4h0M189.9 618.5h0M195.9 575.0h0M186.9 607.8h0M198.0 650.5h0M219.4 570.5h0M196.1 635.7h0M196.6 606.1h0M212.2 649.2h0M184.6 638.8h0M186.0 569.6h0M210.0 620.0h0M186.4 638.8h0M204.9 588.3h0M212.8 625.3h0M203.0 586.1h0M184.5 581.9h0M189.3 592.9h0M202.2 589.5h0M218.0 647.7h0M206.5 584.4h0M208.2 600.9h0M204.3 606.3h0M193.9 624.1h0M204.7 648.4h0M181.8 617.4h0M197.3 638.9h0M212.6 575.4h0M189.3 621.5h0M206.3 579.0h0M209.1 639.8h0M187.4 615.8h0M214.3 575.8h0M190.8 638.0h0M218.4 609.7h0M194.6 606.2h0M204.9 571.1h0M217.8 642.9h0M212.9 608.7h0M200.1 639.2h0M188.9 570.5h0M205.0 623.1h0M204.0 596.7h0M183.9 610.7h0M196.1 618.3h0M216.8 635.8h0M201.6 644.3h0M188.4 578.5h0M206.1 638.8h0M198.8 574.2h0M216.5 564.9h0M200.2 590.2h0M182.4 588.8h0M187.6 631.1h0M188.1 612.8h0M217.9 597.8h0M195.2 632.8h0M194.8 645.4h0M218.9 619.8h0M189.3 620.8h0M205.3 639.0h0M217.8 589.5h0M216.3 650.6h0M187.6 579.3h0M199.5 567.9h0M191.1 635.6h0M208.3 579.2h0M190.8 593.2h0M188.2 608.6h0M191.8 573.7h0M186.4 600.9h0M208.9 594.8h0M192.1 571.5h0M196.8 616.5h0M192.0 603.2h0M196.0 577.9h0M193.1 632.6h0M195.0 599.7h0M208.6 566.2h0M188.1 640.5h0M207.8 599.6h0M194.7 572.0h0M185.0 589.1h0M186.0 586.2h0M216.0 567.8h0M183.0 592.8h0M192.0 578.7h0M214.6 582.6h0M184.5 622.7h0M189.5 577.8h0M191.7 565.9h0M213.5 579.5h0M185.8 589.7h0M217.7 578.4h0M186.0 616.0h0M203.1 640.5h0M211.1 636.3h0M202.9 604.9h0M200.9 632.3h0M198.2 632.8h0M191.1 619.2h0M219.5 633.8h0M196.9 596.9h0M206.0 629.1h0M203.8 609.5h0M218.3 628.3h0M190.8 628.3h0M187.4 569.7h0M215.9 636.5h0M200.9 567.1h0M206.0 601.2h0M205.4 615.4h0M211.4 635.6h0M213.6 569.0h0M208.3 622.4h0M181.6 594.0h0M213.5 567.6h0M183.0 592.9h0M214.3 619.7h0M181.4 571.2h0M211.1 637.8h0M205.9 567.7h0M182.4 584.8h0M210.3 592.7h0M203.7 569.6h0M186.0 644.5h0M215.1 648.1h0M204.1 642.7h0M199.2 581.3h0M217.7 636.5h0M189.2 593.4h0M188.2 589.1h0M215.7 624.0h0M187.6 571.4h0M212.8 564.5h0M189.5 645.0h0M212.7 594.8h0M197.1 633.2h0M205.1 601.0h0M204.7 572.1h0M196.6 605.3h0M201.3 578.9h0M206.3 571.0h0M186.6 565.6h0M216.6 598.9h0M213.0 586.5h0M189.4 593.2h0M190.0 647.7h0M196.6 636.1h0M211.0 625.4h0M201.2 585.2h0M193.5 629.2h0M210.9 624.7h0M188.9 609.9h0M208.6 584.8h0M210.3 582.1h0M185.3 600.5h0M203.3 588.1h0M204.2 641.0h0M218.7 604.5h0M192.9 623.0h0M199.1 642.0h0M217.3 618.0h0M186.4 578.0h0M215.8 591.8h0M195.4 644.3h0M194.6 568.0h0M219.6 583.3h0M196.4 617.8h0M190.9 638.3h0M189.4 635.4h0M208.1 627.6h0M205.8 625.1h0M190.6 596.5h0M200.4 569.3h0M192.4 619.3h0M213.6 570.3h0M195.1 633.5h0M205.0 575.4h0M216.5 566.1h0M190.6 650.9h0M218.0 578.6h0M200.0 614.6h0M206.0 569.4h0M191.8 649.3h0M208.1 565.4h0M209.2 623.8h0M204.1 637.4h0M214.5 589.8h0M199.5 564.7h0M182.0 567.2h0M216.5 569.3h0M203.2 629.6h0M205.0 610.0h0M204.4 642.0h0M183.0 619.0h0M192.4 615.7h0M184.8 581.6h0M206.4 583.5h0M214.2 649.1h0M206.8 646.9h0M212.6 602.1h0M194.2 633.2h0M182.6 626.7h0M197.1 588.2h0M187.9 581.4h0M193.1 629.1h0M190.6 647.8h0M188.3 649.6h0M207.8 595.1h0M204.4 569.7h0M213.0 591.8h0M219.2 570.1h0M190.5 649.9h0M217.4 590.7h0M210.9 637.7h0M203.0 585.4h0M218.7 647.5h0M201.1 606.6h0M182.5 636.5h0M186.2 616.1h0M193.4 630.6h0M208.1 570.3h0M203.1 571.6h0M207.6 595.1h0M182.1 640.4h0M190.9 643.1h0M202.7 625.8h0M206.5 616.1h0M198.0 568.3h0M189.8 644.7h0M193.3 621.4h0M210.6 617.6h0M209.0 637.3h0M190.9 584.6h0M217.9 617.9h0M183.1 623.4h0M190.4 629.8h0M198.2 572.2h0M212.3 627.4h0M203.1 642.5h0M207.3 618.7h0M217.9 578.8h0M195.5 643.9h0M188.4 572.9h0M197.1 584.0h0M203.0 638.4h0M186.6 615.2h0M182.9 593.2h0M209.3 633.9h0M219.4 620.3h0M217.2 574.3h0M195.8 584.2h0M198.8 634.5h0M213.2 634.6h0M219.2 570.5h0M195.1 609.4h0M218.0 626.0h0M208.2 592.3h0M187.1 569.5h0M198.7 600.3h0M181.5 645.3h0M197.0 627.5h0M201.5 582.6h0M212.0 637.5h0M194.1 622.1h0M206.3 589.2h0M206.9 587.4h0M201.5 579.4h0M205.0 599.2h0M199.1 595.3h0M204.8 588.8h0M199.1 640.0h0M216.4 630.2h0M185.7 606.9h0M214.6 647.8h0M210.0 622.6h0M181.8 646.8h0M209.0 635.8h0M195.3 619.2h0M200.9 624.4h0M201.3 631.4h0M209.6 629.9h0M200.1 640.0h0M205.8 593.6h0M189.8 595.6h0M184.1 585.5h0M207.1 644.2h0M219.4 642.6h0M184.4 602.5h0M216.4 598.9h0M196.2 575.5h0M206.5 648.8h0M191.6 622.5h0M207.9 647.8h0M198.1 619.0h0M211.9 608.7h0M192.0 629.1h0M194.2 641.2h0M205.4 637.5h0M185.4 594.1h0M218.8 608.1h0M204.7 646.2h0M218.7 608.0h0M188.2 633.8h0M208.6 609.7h0M189.1 636.4h0M184.6 569.9h0M198.4 564.1h0M199.5 571.9h0M202.8 601.9h0M199.3 596.0h0M188.9 647.4h0M207.6 650.7h0M191.6 575.7h0M192.5 636.6h0M211.4 608.3h0M207.6 637.2h0M209.3 596.1h0M216.8 631.2h0M214.1 564.4h0M189.8 604.7h0M218.9 592.9h0M201.4 585.9h0M202.8 590.1h0M192.1 600.5h0M196.3 607.1h0M202.8 609.7h0M182.7 627.9h0M209.1 635.9h0M194.8 647.6h0M208.0 622.2h0M209.5 586.3h0M205.2 614.4h0M184.3 602.1h0M203.0 584.5h0M195.0 592.9h0M208.8 583.9h0M208.7 610.9h0M200.7 569.8h0M209.5 611.3h0M186.9 599.8h0M212.7 564.6h0M218.6 588.0h0M216.0 648.5h0M212.6 614.4h0M197.0 569.6h0M217.2 614.3h0M203.0 625.2h0M189.7 575.7h0M202.2 599.0h0M214.1 582.6h0M207.4 611.2h0M213.4 635.5h0M182.7 584.9h0M218.6 576.1h0M216.8 576.1h0M200.7 617.5h0M216.9 570.0h0M188.4 609.8h0M195.4 634.5h0M187.9 630.7h0M207.1 622.3h0M216.6 565.0h0M217.2 601.6h0M184.5 585.2h0M210.9 608.8h0M202.9 577.2h0M189.9 575.8h0M215.8 646.8h0M201.7 640.6h0M183.0 572.5h0M195.8 636.0h0M207.6 569.7h0M214.1 593.5h0M189.0 650.5h0M204.1 645.8h0M184.7 604.7h0M216.4 625.1h0M181.8 597.3h0M218.7 637.8h0M203.1 591.5h0M210.3 581.9h0M207.1 576.6h0M200.8 618.9h0M198.2 612.5h0M189.4 642.5h0M192.4 576.8h0M185.0 634.0h0M191.7 646.1h0M206.5 629.0h0M202.6 574.0h0M203.2 577.4h0M201.7 571.6h0M217.7 593.0h0M214.0 630.0h0M191.5 576.6h0M202.8 603.1h0M218.6 567.9h0M191.7 623.0h0M208.3 572.6h0M206.3 633.0h0M207.1 617.3h0M202.8 580.6h0M209.8 624.8h0M195.8 594.4h0M217.4 609.6h0M203.2 612.4h0M194.4 587.6h0M205.9 600.3h0M207.7 632.4h0M216.7 639.2h0M205.8 637.8h0M201.5 613.4h0M195.0 639.9h0M197.7 576.2h0M192.4 649.6h0M205.2 567.9h0M214.5 642.2h0M204.2 632.9h0M189.2 597.9h0M182.8 632.8h0M215.1 647.3h0M192.7 578.3h0M207.9 620.5h0M217.7 564.4h0M217.5 621.8h0M202.7 569.3h0M216.5 622.1h0M196.9 566.3h0M217.5 599.1h0M207.5 639.4h0M184.5 590.7h0M212.6 648.3h0M187.6 605.0h0M219.7 579.8h0M183.3 645.5h0M210.5 577.5h0M187.3 615.7h0M202.1 646.0h0M195.7 645.8h0M215.0 612.3h0M191.9 582.5h0M209.1 607.5h0M217.5 589.4h0M183.9 591.3h0M208.8 591.6h0M184.6 581.6h0M211.3 567.4h0M214.3 629.3h0M186.7 565.1h0M215.4 613.9h0M198.2 595.9h0M193.2 620.6h0M218.5 614.5h0M196.2 605.7h0M189.5 631.6h0M194.1 613.8h0M216.1 642.2h0M219.2 614.9h0M198.9 640.2h0M200.4 639.2h0M204.4 625.5h0M213.6 592.6h0M181.7 606.3h0M212.0 570.9h0M218.7 627.1h0M197.0 620.2h0M198.2 635.2h0M218.2 571.3h0M197.0 575.2h0M195.9 620.2h0M214.4 627.7h0M199.6 570.4h0M206.2 566.7h0M192.4 592.3h0M207.5 593.5h0M195.5 568.5h0M211.5 572.5h0M200.3 581.7h0M216.7 565.2h0M202.4 576.9h0M214.3 566.2h0M198.3 596.2h0M207.1 629.1h0M191.7 621.5h0M203.9 616.6h0M206.9 604.7h0M188.7 580.3h0M202.3 568.2h0M216.8 580.1h0M189.1 646.4h0M200.1 634.8h0M213.6 613.6h0M197.8 617.4h0M182.5 628.8h0M201.6 635.5h0M199.2 585.0h0M217.0 633.8h0M206.9 620.4h0M211.2 588.2h0M195.5 589.0h0M215.8 578.9h0M213.2 611.6h0M184.9 648.3h0M206.8 632.7h0M216.1 578.5h0M206.4 574.4h0M218.7 588.5h0M191.4 578.3h0M204.0 576.4h0M201.9 627.7h0M192.7 591.4h0M211.4 613.2h0M198.0 591.4h0M206.3 649.7h0M211.4 615.5h0M209.3 576.1h0M185.3 631.6h0M183.5 589.2h0M212.9 603.6h0M206.4 589.0h0M187.1 606.6h0M186.4 590.7h0M200.5 591.9h0M188.2 577.7h0M217.1 647.5h0M190.0 582.0h0M217.6 588.6h0M208.9 599.7h0M202.7 574.3h0M207.2 583.9h0M208.0 599.4h0M192.4 614.8h0M200.1 610.7h0M183.9 596.1h0M183.2 622.9h0M217.6 628.9h0M214.1 587.1h0M210.3 584.8h0M185.4 618.4h0M205.4 599.8h0M208.9 636.2h0M197.9 564.8h0M195.9 611.1h0M209.3 594.3h0M181.8 582.5h0M199.5 639.5h0M191.2 582.9h0M198.4 632.6h0M202.6 638.3h0M197.5 648.2h0M215.1 574.1h0M215.3 577.6h0M210.6 571.3h0M211.9 591.9h0M200.6 642.9h0M191.8 620.0h0M212.7 577.5h0M185.9 573.2h0M204.2 629.2h0M205.7 618.2h0M185.6 564.2h0M189.2 615.1h0M207.2 580.5h0M214.3 589.5h0M196.4 572.8h0M201.8 650.3h0M208.6 603.7h0M203.7 617.7h0M199.2 581.8h0M205.9 596.6h0M208.7 620.3h0M212.2 629.0h0M202.9 642.9h0M206.8 585.5h0M188.9 584.9h0M187.6 599.1h0M212.5 590.8h0M190.0 635.3h0M198.2 596.3h0M215.4 596.5h0M187.0 607.7h0M207.5 613.1h0M190.9 594.7h0M205.4 564.8h0M212.8 628.0h0M212.9 574.0h0M211.3 638.3h0M201.3 585.5h0M202.3 586.2h0M188.0 610.6h0M185.9 642.9h0M210.1 597.1h0M183.4 605.8h0M217.2 600.1h0M188.5 573.8h0M209.1 589.1h0M198.6 643.8h0M204.9 645.7h0M210.5 586.2h0M192.8 644.0h0M213.1 565.4h0M210.4 626.5h0M203.7 566.2h0M203.4 601.1h0M196.1 599.9h0M218.6 601.8h0M196.3 645.9h0M190.7 594.6h0M202.8 565.6h0M216.8 573.6h0M217.0 629.2h0M203.6 575.2h0M196.5 569.1h0M210.1 581.0h0M202.9 649.1h0M213.0 602.7h0M213.4 576.9h0M208.4 621.3h0M218.8 596.9h0M206.3 612.1h0M218.8 650.7h0M206.4 624.8h0M189.8 610.5h0M205.5 650.9h0M210.9 608.0h0M197.6 603.4h0M187.8 638.0h0M194.9 647.4h0M211.4 626.6h0M189.4 595.8h0M181.8 599.0h0M215.2 564.8h0M218.7 584.9h0M214.8 631.6h0M212.2 606.5h0M209.4 638.5h0M202.6 622.3h0M206.4 613.3h0M210.1 634.1h0M194.0 607.3h0M189.3 622.0h0M208.0 606.6h0M204.6 594.7h0M219.4 630.6h0M197.3 570.2h0M197.3 649.0h0M186.1 647.6h0M182.0 636.2h0M186.7 604.7h0M204.1 603.1h0M218.4 599.0h0M185.7 604.0h0M187.5 583.3h0M207.6 633.5h0M193.0 640.7h0M183.2 607.6h0M215.5 638.2h0M187.1 589.4h0M198.2 638.8h0M210.4 648.7h0M211.4 622.3h0M218.1 647.8h0M204.2 627.2h0M187.1 624.3h0M184.5 605.2h0M206.1 569.2h0M202.0 574.9h0M191.0 636.0h0M187.7 579.8h0M194.9 623.7h0M192.5 577.9h0M195.0 629.7h0M194.9 647.1h0M210.3 617.8h0M199.1 567.4h0M214.0 628.1h0M200.7 605.4h0M192.6 639.3h0M216.9 577.0h0M206.4 588.4h0M213.8 644.0h0M190.3 636.8h0M218.8 643.1h0M205.8 609.3h0M195.8 622.7h0M191.0 645.2h0M185.2 621.4h0M182.7 571.6h0M188.9 577.5h0M193.3 564.2h0M201.8 573.7h0M196.7 566.4h0M183.1 597.5h0M186.9 617.6h0M182.1 638.9h0M183.0 599.6h0M192.8 578.0h0M205.9 643.1h0M187.3 643.8h0M215.3 649.0h0M219.3 566.0h0M205.0 615.4h0M183.3 618.9h0M188.4 610.5h0M201.0 580.3h0M217.3 644.1h0M219.1 610.7h0M209.7 567.2h0M215.6 594.1h0M185.1 627.3h0M200.9 581.6h0M199.8 631.6h0M189.7 582.3h0M203.1 601.6h0M203.0 589.4h0M218.7 575.1h0M184.0 640.9h0M192.9 593.6h0M188.0 629.4h0M190.0 641.5h0M193.6 588.6h0M195.6 564.5h0M218.2 609.7h0M194.0 584.5h0M200.0 640.0h0M187.8 578.3h0M189.9 626.8h0M189.7 566.2h0M203.2 587.6h0M193.0 581.1h0M192.1 638.1h0M201.5 616.1h0M182.0 621.4h0M214.6 571.2h0M183.4 590.9h0M197.2 641.6h0M219.4 617.3h0M187.9 629.9h0M183.1 607.7h0M200.1 581.9h0M205.6 643.5h0M196.1 587.0h0M189.9 578.8h0M207.9 620.5h0M204.0 571.5h0M194.7 630.5h0M205.0 625.9h0M213.7 597.3h0M201.2 608.8h0M196.3 606.4h0M205.0 570.5h0M200.8 570.9h0M185.2 594.7h0M216.1 564.6h0" stroke="#c9c9c9" stroke-width="2.2" stroke-linecap="round" fill="none"/>
<path d="M278.6 125.0h0M280.4 125.0h0M282.3 125.0h0M284.1 125.0h0M286.0 125.0h0M287.8 125.0h0M289.7 125.0h0M291.5 125.0h0M293.4 125.0h0M295.2 125.0h0M297.1 125.0h0M298.9 125.0h0M300.8 125.0h0M302.6 125.0h0M304.5 125.0h0M306.3 125.0h0M308.2 125.0h0M310.0 125.0h0M311.9 125.0h0M313.7 125.0h0M315.6 125.0h0M317.4 125.0h0M278.6 421.4h0M280.4 421.4h0M282.3 421.4h0M284.1 421.4h0M286.0 421.4h0M287.8 421.4h0M289.6 421.4h0M291.5 421.4h0M293.3 421.4h0M295.1 421.4h0M297.0 421.4h0M298.8 421.4h0M300.7 421.4h0M302.5 421.4h0M304.3 421.4h0M306.2 421.4h0M308.0 421.4h0M309.8 421.4h0M311.7 421.4h0M313.5 421.4h0M315.4 421.4h0M317.2 421.4h0M278.6 647.5h0M280.4 647.5h0M282.3 647.5h0M284.1 647.5h0M286.0 647.5h0M287.8 647.5h0M289.6 647.5h0M291.5 647.5h0M293.3 647.5h0M295.1 647.5h0M297.0 647.5h0M298.8 647.5h0M300.7 647.5h0M302.5 647.5h0M304.3 647.5h0M306.2 647.5h0M308.0 647.5h0M309.8 647.5h0M311.7 647.5h0M313.5 647.5h0M315.4 647.5h0M317.2 647.5h0" stroke="#c6c6c6" stroke-width="3.0" stroke-linecap="round" fill="none"/>
<path d="M93.2 62.0H112.8M93.2 190.5H112.8M103.0 62.0V190.5" stroke="#4f4f4f" stroke-width="0.95" fill="none"/>
<circle cx="103.0" cy="126.2" r="3.1" fill="#000"/>
<text x="114.60000000000001" y="129.6" font-size="13.8" class="k">a</text>
<path d="M190.7 20.5H210.3M190.7 103.4H210.3M200.5 20.5V103.4" stroke="#4f4f4f" stroke-width="0.95" fill="none"/>
<circle cx="200.5" cy="61.9" r="3.1" fill="#000"/>
<text x="222.20000000000002" y="66.8" font-size="13.8" class="k">b</text>
<path d="M288.5 125.0H308.1" stroke="#4f4f4f" stroke-width="0.95" fill="none"/>
<circle cx="298.3" cy="125.1" r="3.1" fill="#000"/>
<text x="325.0" y="127.4" font-size="13.8" class="k">a</text>
<path d="M93.1 408.4H112.7M93.1 425.5H112.7M102.9 408.4V425.5" stroke="#4f4f4f" stroke-width="0.95" fill="none"/>
<circle cx="102.9" cy="417.1" r="3.1" fill="#000"/>
<text x="121.0" y="418.5" font-size="13.8" class="k">a</text>
<path d="M191.2 357.2H210.8M191.2 414.2H210.8M201.0 357.2V414.2" stroke="#4f4f4f" stroke-width="0.95" fill="none"/>
<circle cx="201.0" cy="385.6" r="3.1" fill="#000"/>
<text x="221.9" y="386.0" font-size="13.8" class="k">b</text>
<path d="M288.4 421.4H308.0" stroke="#4f4f4f" stroke-width="0.95" fill="none"/>
<circle cx="298.2" cy="421.4" r="3.1" fill="#000"/>
<text x="323.2" y="423.6" font-size="13.8" class="k">a</text>
<path d="M93.5 627.3H113.1M93.5 658.3H113.1M103.3 627.3V658.3" stroke="#4f4f4f" stroke-width="0.95" fill="none"/>
<circle cx="103.3" cy="642.7" r="3.1" fill="#000"/>
<text x="129.4" y="647.8" font-size="13.8" class="k">a</text>
<path d="M191.2 572.0H210.8M191.2 638.9H210.8M201.0 572.0V638.9" stroke="#4f4f4f" stroke-width="0.95" fill="none"/>
<circle cx="201.0" cy="606.0" r="3.1" fill="#000"/>
<text x="223.0" y="611.9" font-size="13.8" class="k">b</text>
<path d="M288.4 647.5H308.0" stroke="#4f4f4f" stroke-width="0.95" fill="none"/>
<circle cx="298.2" cy="647.5" r="3.1" fill="#000"/>
<text x="323.2" y="650.2" font-size="13.8" class="k">a</text>
<rect x="44.0" y="1.5" width="312.3" height="206.0" fill="none" stroke="#a3a3a3" stroke-width="1.7"/>
<line x1="41.3" x2="44.0" y1="194.90" y2="194.90" stroke="#777" stroke-width="1"/>
<text x="40.3" y="198.82" font-size="8.4" text-anchor="end" class="g">0.0</text>
<line x1="41.3" x2="44.0" y1="146.65" y2="146.65" stroke="#777" stroke-width="1"/>
<text x="40.3" y="150.58" font-size="8.4" text-anchor="end" class="g">0.3</text>
<line x1="41.3" x2="44.0" y1="98.40" y2="98.40" stroke="#777" stroke-width="1"/>
<text x="40.3" y="102.33" font-size="8.4" text-anchor="end" class="g">0.6</text>
<line x1="41.3" x2="44.0" y1="50.15" y2="50.15" stroke="#777" stroke-width="1"/>
<text x="40.3" y="54.08" font-size="8.4" text-anchor="end" class="g">0.9</text>
<line x1="41.3" x2="44.0" y1="1.90" y2="1.90" stroke="#777" stroke-width="1"/>
<text x="40.3" y="5.83" font-size="8.4" text-anchor="end" class="g">1.2</text>
<line x1="103.0" x2="103.0" y1="207.5" y2="210.2" stroke="#777" stroke-width="1"/>
<line x1="200.6" x2="200.6" y1="207.5" y2="210.2" stroke="#777" stroke-width="1"/>
<line x1="298.2" x2="298.2" y1="207.5" y2="210.2" stroke="#777" stroke-width="1"/>
<text x="102.7" y="218.8" font-size="8.2" text-anchor="middle" class="g">Urban Forest</text>
<text x="200.5" y="218.8" font-size="8.2" text-anchor="middle" class="g">Forested Natural Areas</text>
<text x="297.6" y="218.8" font-size="8.2" text-anchor="middle" class="g">Street Tree</text>
<text transform="translate(26.0,103.65) rotate(-90)" text-anchor="middle" font-size="10.85" class="k">Proportion Native Species</text>
<text x="54.6" y="21.9" font-size="15.6" class="k">(a)</text>
<rect x="44.0" y="225.9" width="312.3" height="210.04999999999998" fill="none" stroke="#a3a3a3" stroke-width="1.7"/>
<line x1="41.3" x2="44.0" y1="421.30" y2="421.30" stroke="#777" stroke-width="1"/>
<text x="40.3" y="425.11" font-size="8.35" text-anchor="end" class="g">0</text>
<line x1="41.3" x2="44.0" y1="384.10" y2="384.10" stroke="#777" stroke-width="1"/>
<text x="40.3" y="387.91" font-size="8.35" text-anchor="end" class="g">1000</text>
<line x1="41.3" x2="44.0" y1="346.90" y2="346.90" stroke="#777" stroke-width="1"/>
<text x="40.3" y="350.71" font-size="8.35" text-anchor="end" class="g">2000</text>
<line x1="41.3" x2="44.0" y1="309.70" y2="309.70" stroke="#777" stroke-width="1"/>
<text x="40.3" y="313.51" font-size="8.35" text-anchor="end" class="g">3000</text>
<line x1="41.3" x2="44.0" y1="272.50" y2="272.50" stroke="#777" stroke-width="1"/>
<text x="40.3" y="276.31" font-size="8.35" text-anchor="end" class="g">4000</text>
<line x1="41.3" x2="44.0" y1="235.30" y2="235.30" stroke="#777" stroke-width="1"/>
<text x="40.3" y="239.11" font-size="8.35" text-anchor="end" class="g">5000</text>
<line x1="103.0" x2="103.0" y1="435.95" y2="438.65" stroke="#777" stroke-width="1"/>
<line x1="200.6" x2="200.6" y1="435.95" y2="438.65" stroke="#777" stroke-width="1"/>
<line x1="298.2" x2="298.2" y1="435.95" y2="438.65" stroke="#777" stroke-width="1"/>
<text x="102.7" y="447.5" font-size="8.35" text-anchor="middle" class="g">Urban Forest</text>
<text x="200.5" y="447.5" font-size="8.35" text-anchor="middle" class="g">Forested Natural Areas</text>
<text x="297.6" y="447.5" font-size="8.35" text-anchor="middle" class="g">Street Tree</text>
<text transform="translate(19.3,331.0) rotate(-90)" text-anchor="middle" font-size="10.92" class="k">Number of trees hectare-1</text>
<text x="54.6" y="250.5" font-size="15.8" class="k">(b)</text>
<rect x="44.0" y="453.55" width="312.3" height="216.34999999999997" fill="none" stroke="#a3a3a3" stroke-width="1.7"/>
<line x1="41.3" x2="44.0" y1="649.60" y2="649.60" stroke="#777" stroke-width="1"/>
<text x="40.3" y="652.86" font-size="8.5" text-anchor="end" class="g">0</text>
<line x1="41.3" x2="44.0" y1="597.93" y2="597.93" stroke="#777" stroke-width="1"/>
<text x="40.3" y="601.19" font-size="8.5" text-anchor="end" class="g">250000</text>
<line x1="41.3" x2="44.0" y1="546.25" y2="546.25" stroke="#777" stroke-width="1"/>
<text x="40.3" y="549.51" font-size="8.5" text-anchor="end" class="g">500000</text>
<line x1="41.3" x2="44.0" y1="494.58" y2="494.58" stroke="#777" stroke-width="1"/>
<text x="40.3" y="497.84" font-size="8.5" text-anchor="end" class="g">750000</text>
<line x1="103.0" x2="103.0" y1="669.9" y2="672.6" stroke="#777" stroke-width="1"/>
<line x1="200.6" x2="200.6" y1="669.9" y2="672.6" stroke="#777" stroke-width="1"/>
<line x1="298.2" x2="298.2" y1="669.9" y2="672.6" stroke="#777" stroke-width="1"/>
<text x="102.7" y="681.0" font-size="8.5" text-anchor="middle" class="g">Urban Forest</text>
<text x="200.5" y="681.0" font-size="8.5" text-anchor="middle" class="g">Forested Natural Areas</text>
<text x="297.6" y="681.0" font-size="8.5" text-anchor="middle" class="g">Street Tree</text>
<text transform="translate(9.3,560.6) rotate(-90)" text-anchor="middle" font-size="11.4" class="k">Biomass (kg hectare-1)</text>
<text x="54.6" y="478.1" font-size="15.8" class="k">(c)</text>
<text x="200.3" y="693.7" text-anchor="middle" font-size="11.25" class="k">Assessment type</text>
</svg>
</body></html>
